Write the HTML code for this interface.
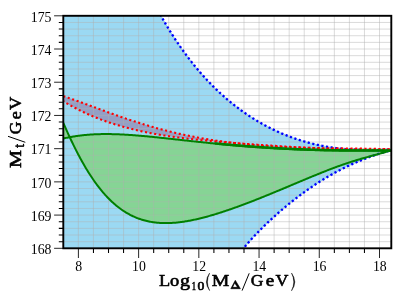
<!DOCTYPE html>
<html><head><meta charset="utf-8"><title>plot</title>
<style>
html,body{margin:0;padding:0;background:#fff;}
svg{display:block;will-change:transform;font-family:"Liberation Serif",serif;}
</style></head><body>
<svg width="407" height="305" viewBox="0 0 407 305">
<rect width="407" height="305" fill="#fff"/>
<defs><clipPath id="g"><path d="M63.30 138.55 L64.30 138.32 L65.29 138.09 L66.29 137.88 L67.28 137.67 L68.28 137.46 L69.28 137.27 L70.27 137.08 L71.27 136.90 L72.26 136.72 L73.26 136.55 L74.26 136.39 L75.25 136.23 L76.25 136.08 L77.24 135.94 L78.24 135.80 L79.24 135.67 L80.23 135.54 L81.23 135.42 L82.22 135.31 L83.22 135.20 L84.22 135.09 L85.21 135.00 L86.21 134.90 L87.21 134.82 L88.20 134.74 L89.20 134.66 L90.19 134.59 L91.19 134.52 L92.19 134.46 L93.18 134.40 L94.18 134.35 L95.17 134.30 L96.17 134.26 L97.17 134.22 L98.16 134.19 L99.16 134.16 L100.15 134.13 L101.15 134.11 L102.15 134.10 L103.14 134.08 L104.14 134.07 L105.13 134.07 L106.13 134.07 L107.13 134.07 L108.12 134.07 L109.12 134.08 L110.11 134.10 L111.11 134.11 L112.11 134.13 L113.10 134.15 L114.10 134.18 L115.09 134.21 L116.09 134.24 L117.09 134.28 L118.08 134.31 L119.08 134.35 L120.07 134.40 L121.07 134.44 L122.07 134.49 L123.06 134.54 L124.06 134.60 L125.06 134.65 L126.05 134.71 L127.05 134.77 L128.04 134.83 L129.04 134.90 L130.04 134.97 L131.03 135.03 L132.03 135.11 L133.02 135.18 L134.02 135.25 L135.02 135.33 L136.01 135.41 L137.01 135.49 L138.00 135.57 L139.00 135.65 L140.00 135.74 L140.99 135.82 L141.99 135.91 L142.98 136.00 L143.98 136.09 L144.98 136.18 L145.97 136.27 L146.97 136.37 L147.96 136.46 L148.96 136.56 L149.96 136.66 L150.95 136.75 L151.95 136.85 L152.94 136.95 L153.94 137.05 L154.94 137.15 L155.93 137.26 L156.93 137.36 L157.92 137.46 L158.92 137.57 L159.92 137.67 L160.91 137.78 L161.91 137.88 L162.90 137.99 L163.90 138.10 L164.90 138.20 L165.89 138.31 L166.89 138.42 L167.89 138.53 L168.88 138.64 L169.88 138.75 L170.87 138.85 L171.87 138.96 L172.87 139.07 L173.86 139.18 L174.86 139.29 L175.85 139.40 L176.85 139.51 L177.85 139.62 L178.84 139.73 L179.84 139.84 L180.83 139.95 L181.83 140.06 L182.83 140.17 L183.82 140.28 L184.82 140.39 L185.81 140.50 L186.81 140.61 L187.81 140.72 L188.80 140.83 L189.80 140.94 L190.79 141.05 L191.79 141.15 L192.79 141.26 L193.78 141.37 L194.78 141.48 L195.77 141.58 L196.77 141.69 L197.77 141.79 L198.76 141.90 L199.76 142.01 L200.75 142.11 L201.75 142.22 L202.75 142.32 L203.74 142.42 L204.74 142.53 L205.73 142.63 L206.73 142.73 L207.73 142.83 L208.72 142.93 L209.72 143.03 L210.72 143.13 L211.71 143.23 L212.71 143.33 L213.70 143.43 L214.70 143.53 L215.70 143.63 L216.69 143.72 L217.69 143.82 L218.68 143.92 L219.68 144.01 L220.68 144.11 L221.67 144.20 L222.67 144.29 L223.66 144.39 L224.66 144.48 L225.66 144.57 L226.65 144.66 L227.65 144.75 L228.64 144.84 L229.64 144.93 L230.64 145.02 L231.63 145.10 L232.63 145.19 L233.62 145.28 L234.62 145.36 L235.62 145.45 L236.61 145.53 L237.61 145.62 L238.60 145.70 L239.60 145.78 L240.60 145.86 L241.59 145.94 L242.59 146.02 L243.58 146.10 L244.58 146.18 L245.58 146.26 L246.57 146.34 L247.57 146.42 L248.57 146.49 L249.56 146.57 L250.56 146.64 L251.55 146.72 L252.55 146.79 L253.55 146.86 L254.54 146.94 L255.54 147.01 L256.53 147.08 L257.53 147.15 L258.53 147.22 L259.52 147.29 L260.52 147.35 L261.51 147.42 L262.51 147.49 L263.51 147.55 L264.50 147.62 L265.50 147.68 L266.49 147.75 L267.49 147.81 L268.49 147.87 L269.48 147.93 L270.48 148.00 L271.47 148.06 L272.47 148.12 L273.47 148.17 L274.46 148.23 L275.46 148.29 L276.45 148.35 L277.45 148.40 L278.45 148.46 L279.44 148.51 L280.44 148.57 L281.43 148.62 L282.43 148.67 L283.43 148.72 L284.42 148.78 L285.42 148.83 L286.41 148.88 L287.41 148.92 L288.41 148.97 L289.40 149.02 L290.40 149.07 L291.40 149.11 L292.39 149.16 L293.39 149.20 L294.38 149.25 L295.38 149.29 L296.38 149.33 L297.37 149.38 L298.37 149.42 L299.36 149.46 L300.36 149.50 L301.36 149.54 L302.35 149.57 L303.35 149.61 L304.34 149.65 L305.34 149.68 L306.34 149.72 L307.33 149.75 L308.33 149.79 L309.32 149.82 L310.32 149.85 L311.32 149.88 L312.31 149.91 L313.31 149.95 L314.30 149.97 L315.30 150.00 L316.30 150.03 L317.29 150.06 L318.29 150.08 L319.28 150.11 L320.28 150.14 L321.28 150.16 L322.27 150.18 L323.27 150.21 L324.26 150.23 L325.26 150.25 L326.26 150.27 L327.25 150.29 L328.25 150.31 L329.24 150.33 L330.24 150.35 L331.24 150.36 L332.23 150.38 L333.23 150.40 L334.23 150.41 L335.22 150.43 L336.22 150.44 L337.21 150.45 L338.21 150.47 L339.21 150.48 L340.20 150.49 L341.20 150.50 L342.19 150.51 L343.19 150.52 L344.19 150.53 L345.18 150.54 L346.18 150.54 L347.17 150.55 L348.17 150.56 L349.17 150.56 L350.16 150.57 L351.16 150.57 L352.15 150.58 L353.15 150.58 L354.15 150.59 L355.14 150.59 L356.14 150.59 L357.13 150.60 L358.13 150.60 L359.13 150.60 L360.12 150.60 L361.12 150.60 L362.11 150.60 L363.11 150.60 L364.11 150.61 L365.10 150.61 L366.10 150.61 L367.09 150.61 L368.09 150.61 L369.09 150.61 L370.08 150.61 L371.08 150.61 L372.08 150.61 L373.07 150.61 L374.07 150.61 L375.06 150.61 L376.06 150.61 L377.06 150.61 L378.05 150.61 L379.05 150.62 L380.04 150.62 L381.04 150.62 L382.04 150.63 L383.03 150.63 L384.03 150.64 L385.02 150.64 L386.02 150.65 L387.02 150.66 L388.01 150.67 L389.01 150.68 L390.00 150.69 L391.00 150.70 L391.00 150.30 L390.00 150.63 L389.01 150.96 L388.01 151.27 L387.02 151.58 L386.02 151.88 L385.02 152.18 L384.03 152.47 L383.03 152.75 L382.04 153.04 L381.04 153.32 L380.04 153.59 L379.05 153.87 L378.05 154.14 L377.06 154.41 L376.06 154.68 L375.06 154.95 L374.07 155.22 L373.07 155.49 L372.08 155.76 L371.08 156.03 L370.08 156.30 L369.09 156.57 L368.09 156.85 L367.09 157.12 L366.10 157.40 L365.10 157.68 L364.11 157.96 L363.11 158.25 L362.11 158.53 L361.12 158.82 L360.12 159.11 L359.13 159.41 L358.13 159.71 L357.13 160.01 L356.14 160.31 L355.14 160.62 L354.15 160.93 L353.15 161.24 L352.15 161.56 L351.16 161.88 L350.16 162.20 L349.17 162.53 L348.17 162.85 L347.17 163.19 L346.18 163.52 L345.18 163.86 L344.19 164.20 L343.19 164.55 L342.19 164.89 L341.20 165.25 L340.20 165.60 L339.21 165.96 L338.21 166.31 L337.21 166.68 L336.22 167.04 L335.22 167.41 L334.23 167.78 L333.23 168.15 L332.23 168.53 L331.24 168.90 L330.24 169.28 L329.24 169.67 L328.25 170.05 L327.25 170.44 L326.26 170.83 L325.26 171.22 L324.26 171.61 L323.27 172.00 L322.27 172.40 L321.28 172.80 L320.28 173.20 L319.28 173.60 L318.29 174.00 L317.29 174.41 L316.30 174.81 L315.30 175.22 L314.30 175.63 L313.31 176.04 L312.31 176.45 L311.32 176.86 L310.32 177.27 L309.32 177.68 L308.33 178.10 L307.33 178.51 L306.34 178.93 L305.34 179.34 L304.34 179.76 L303.35 180.18 L302.35 180.59 L301.36 181.01 L300.36 181.43 L299.36 181.85 L298.37 182.27 L297.37 182.69 L296.38 183.10 L295.38 183.52 L294.38 183.94 L293.39 184.36 L292.39 184.78 L291.40 185.20 L290.40 185.62 L289.40 186.04 L288.41 186.46 L287.41 186.88 L286.41 187.29 L285.42 187.71 L284.42 188.13 L283.43 188.55 L282.43 188.96 L281.43 189.38 L280.44 189.80 L279.44 190.21 L278.45 190.62 L277.45 191.04 L276.45 191.45 L275.46 191.86 L274.46 192.28 L273.47 192.69 L272.47 193.10 L271.47 193.51 L270.48 193.91 L269.48 194.32 L268.49 194.73 L267.49 195.13 L266.49 195.54 L265.50 195.94 L264.50 196.35 L263.51 196.75 L262.51 197.15 L261.51 197.55 L260.52 197.95 L259.52 198.34 L258.53 198.74 L257.53 199.13 L256.53 199.53 L255.54 199.92 L254.54 200.31 L253.55 200.70 L252.55 201.09 L251.55 201.47 L250.56 201.86 L249.56 202.24 L248.57 202.62 L247.57 203.00 L246.57 203.38 L245.58 203.76 L244.58 204.13 L243.58 204.51 L242.59 204.88 L241.59 205.25 L240.60 205.62 L239.60 205.98 L238.60 206.35 L237.61 206.71 L236.61 207.07 L235.62 207.43 L234.62 207.79 L233.62 208.14 L232.63 208.49 L231.63 208.84 L230.64 209.19 L229.64 209.54 L228.64 209.88 L227.65 210.22 L226.65 210.56 L225.66 210.89 L224.66 211.23 L223.66 211.56 L222.67 211.88 L221.67 212.21 L220.68 212.53 L219.68 212.85 L218.68 213.16 L217.69 213.48 L216.69 213.79 L215.70 214.09 L214.70 214.40 L213.70 214.70 L212.71 214.99 L211.71 215.29 L210.72 215.57 L209.72 215.86 L208.72 216.14 L207.73 216.42 L206.73 216.69 L205.73 216.96 L204.74 217.23 L203.74 217.49 L202.75 217.75 L201.75 218.00 L200.75 218.25 L199.76 218.49 L198.76 218.73 L197.77 218.97 L196.77 219.20 L195.77 219.42 L194.78 219.64 L193.78 219.85 L192.79 220.06 L191.79 220.26 L190.79 220.46 L189.80 220.65 L188.80 220.84 L187.81 221.02 L186.81 221.19 L185.81 221.36 L184.82 221.52 L183.82 221.67 L182.83 221.82 L181.83 221.95 L180.83 222.09 L179.84 222.21 L178.84 222.33 L177.85 222.44 L176.85 222.54 L175.85 222.64 L174.86 222.72 L173.86 222.80 L172.87 222.87 L171.87 222.93 L170.87 222.99 L169.88 223.03 L168.88 223.06 L167.89 223.09 L166.89 223.10 L165.89 223.11 L164.90 223.10 L163.90 223.09 L162.90 223.06 L161.91 223.03 L160.91 222.98 L159.92 222.92 L158.92 222.85 L157.92 222.77 L156.93 222.68 L155.93 222.57 L154.94 222.46 L153.94 222.33 L152.94 222.18 L151.95 222.03 L150.95 221.86 L149.96 221.68 L148.96 221.48 L147.96 221.27 L146.97 221.05 L145.97 220.81 L144.98 220.55 L143.98 220.28 L142.98 220.00 L141.99 219.70 L140.99 219.38 L140.00 219.05 L139.00 218.70 L138.00 218.34 L137.01 217.96 L136.01 217.55 L135.02 217.14 L134.02 216.70 L133.02 216.25 L132.03 215.77 L131.03 215.28 L130.04 214.77 L129.04 214.24 L128.04 213.69 L127.05 213.12 L126.05 212.53 L125.06 211.92 L124.06 211.28 L123.06 210.63 L122.07 209.95 L121.07 209.25 L120.07 208.53 L119.08 207.79 L118.08 207.02 L117.09 206.23 L116.09 205.42 L115.09 204.58 L114.10 203.72 L113.10 202.83 L112.11 201.92 L111.11 200.98 L110.11 200.02 L109.12 199.04 L108.12 198.02 L107.13 196.98 L106.13 195.92 L105.13 194.82 L104.14 193.70 L103.14 192.56 L102.15 191.38 L101.15 190.18 L100.15 188.95 L99.16 187.69 L98.16 186.40 L97.17 185.08 L96.17 183.74 L95.17 182.36 L94.18 180.96 L93.18 179.53 L92.19 178.06 L91.19 176.57 L90.19 175.05 L89.20 173.50 L88.20 171.91 L87.21 170.30 L86.21 168.66 L85.21 166.99 L84.22 165.29 L83.22 163.55 L82.22 161.79 L81.23 160.00 L80.23 158.18 L79.24 156.33 L78.24 154.45 L77.24 152.54 L76.25 150.60 L75.25 148.63 L74.26 146.63 L73.26 144.60 L72.26 142.55 L71.27 140.47 L70.27 138.36 L69.28 136.22 L68.28 134.06 L67.28 131.87 L66.29 129.66 L65.29 127.42 L64.30 125.16 L63.30 122.87Z" clip-rule="nonzero"/></clipPath><clipPath id="c"><rect x="63.3" y="15.8" width="328.0" height="232.5"/></clipPath></defs>
<g clip-path="url(#c)">
<path d="M63.30 15.80 L64.30 15.80 L65.29 15.80 L66.29 15.80 L67.28 15.80 L68.28 15.80 L69.28 15.80 L70.27 15.80 L71.27 15.80 L72.26 15.80 L73.26 15.80 L74.26 15.80 L75.25 15.80 L76.25 15.80 L77.24 15.80 L78.24 15.80 L79.24 15.80 L80.23 15.80 L81.23 15.80 L82.22 15.80 L83.22 15.80 L84.22 15.80 L85.21 15.80 L86.21 15.80 L87.21 15.80 L88.20 15.80 L89.20 15.80 L90.19 15.80 L91.19 15.80 L92.19 15.80 L93.18 15.80 L94.18 15.80 L95.17 15.80 L96.17 15.80 L97.17 15.80 L98.16 15.80 L99.16 15.80 L100.15 15.80 L101.15 15.80 L102.15 15.80 L103.14 15.80 L104.14 15.80 L105.13 15.80 L106.13 15.80 L107.13 15.80 L108.12 15.80 L109.12 15.80 L110.11 15.80 L111.11 15.80 L112.11 15.80 L113.10 15.80 L114.10 15.80 L115.09 15.80 L116.09 15.80 L117.09 15.80 L118.08 15.80 L119.08 15.80 L120.07 15.80 L121.07 15.80 L122.07 15.80 L123.06 15.80 L124.06 15.80 L125.06 15.80 L126.05 15.80 L127.05 15.80 L128.04 15.80 L129.04 15.80 L130.04 15.80 L131.03 15.80 L132.03 15.80 L133.02 15.80 L134.02 15.80 L135.02 15.80 L136.01 15.80 L137.01 15.80 L138.00 15.80 L139.00 15.80 L140.00 15.80 L140.99 15.80 L141.99 15.80 L142.98 15.80 L143.98 15.80 L144.98 15.80 L145.97 15.80 L146.97 15.80 L147.96 15.80 L148.96 15.80 L149.96 15.80 L150.95 15.80 L151.95 15.80 L152.94 15.80 L153.94 15.80 L154.94 15.80 L155.93 15.80 L156.93 15.80 L157.92 15.80 L158.92 15.80 L159.92 15.80 L160.91 15.80 L161.91 17.46 L162.90 19.20 L163.90 20.93 L164.90 22.63 L165.89 24.32 L166.89 25.99 L167.89 27.64 L168.88 29.27 L169.88 30.88 L170.87 32.48 L171.87 34.06 L172.87 35.62 L173.86 37.16 L174.86 38.69 L175.85 40.20 L176.85 41.69 L177.85 43.17 L178.84 44.63 L179.84 46.08 L180.83 47.51 L181.83 48.93 L182.83 50.32 L183.82 51.71 L184.82 53.08 L185.81 54.43 L186.81 55.77 L187.81 57.10 L188.80 58.41 L189.80 59.70 L190.79 60.98 L191.79 62.25 L192.79 63.51 L193.78 64.75 L194.78 65.97 L195.77 67.19 L196.77 68.39 L197.77 69.57 L198.76 70.75 L199.76 71.91 L200.75 73.06 L201.75 74.19 L202.75 75.32 L203.74 76.43 L204.74 77.53 L205.73 78.61 L206.73 79.69 L207.73 80.75 L208.72 81.80 L209.72 82.84 L210.72 83.87 L211.71 84.89 L212.71 85.90 L213.70 86.89 L214.70 87.88 L215.70 88.85 L216.69 89.81 L217.69 90.76 L218.68 91.70 L219.68 92.64 L220.68 93.56 L221.67 94.47 L222.67 95.37 L223.66 96.26 L224.66 97.14 L225.66 98.01 L226.65 98.87 L227.65 99.72 L228.64 100.56 L229.64 101.39 L230.64 102.21 L231.63 103.02 L232.63 103.83 L233.62 104.62 L234.62 105.41 L235.62 106.18 L236.61 106.95 L237.61 107.71 L238.60 108.46 L239.60 109.20 L240.60 109.93 L241.59 110.65 L242.59 111.37 L243.58 112.08 L244.58 112.77 L245.58 113.47 L246.57 114.15 L247.57 114.82 L248.57 115.49 L249.56 116.14 L250.56 116.79 L251.55 117.44 L252.55 118.07 L253.55 118.70 L254.54 119.31 L255.54 119.93 L256.53 120.53 L257.53 121.12 L258.53 121.71 L259.52 122.29 L260.52 122.87 L261.51 123.43 L262.51 123.99 L263.51 124.54 L264.50 125.09 L265.50 125.63 L266.49 126.16 L267.49 126.68 L268.49 127.20 L269.48 127.71 L270.48 128.21 L271.47 128.70 L272.47 129.19 L273.47 129.68 L274.46 130.15 L275.46 130.62 L276.45 131.08 L277.45 131.54 L278.45 131.99 L279.44 132.43 L280.44 132.87 L281.43 133.30 L282.43 133.72 L283.43 134.14 L284.42 134.55 L285.42 134.95 L286.41 135.35 L287.41 135.74 L288.41 136.13 L289.40 136.51 L290.40 136.88 L291.40 137.25 L292.39 137.61 L293.39 137.97 L294.38 138.32 L295.38 138.66 L296.38 139.00 L297.37 139.33 L298.37 139.66 L299.36 139.98 L300.36 140.29 L301.36 140.60 L302.35 140.90 L303.35 141.20 L304.34 141.49 L305.34 141.78 L306.34 142.06 L307.33 142.34 L308.33 142.61 L309.32 142.87 L310.32 143.13 L311.32 143.39 L312.31 143.63 L313.31 143.88 L314.30 144.12 L315.30 144.35 L316.30 144.58 L317.29 144.80 L318.29 145.02 L319.28 145.23 L320.28 145.43 L321.28 145.64 L322.27 145.83 L323.27 146.02 L324.26 146.21 L325.26 146.39 L326.26 146.57 L327.25 146.74 L328.25 146.91 L329.24 147.07 L330.24 147.23 L331.24 147.38 L332.23 147.53 L333.23 147.68 L334.23 147.82 L335.22 147.95 L336.22 148.08 L337.21 148.21 L338.21 148.33 L339.21 148.44 L340.20 148.56 L341.20 148.66 L342.19 148.77 L343.19 148.87 L344.19 148.96 L345.18 149.05 L346.18 149.14 L347.17 149.22 L348.17 149.30 L349.17 149.38 L350.16 149.45 L351.16 149.51 L352.15 149.58 L353.15 149.64 L354.15 149.69 L355.14 149.74 L356.14 149.79 L357.13 149.84 L358.13 149.88 L359.13 149.91 L360.12 149.95 L361.12 149.98 L362.11 150.00 L363.11 150.03 L364.11 150.05 L365.10 150.07 L366.10 150.08 L367.09 150.09 L368.09 150.10 L369.09 150.10 L370.08 150.11 L371.08 150.11 L372.08 150.10 L373.07 150.10 L374.07 150.09 L375.06 150.08 L376.06 150.06 L377.06 150.05 L378.05 150.03 L379.05 150.01 L380.04 149.98 L381.04 149.96 L382.04 149.93 L383.03 149.90 L384.03 149.87 L385.02 149.83 L386.02 149.80 L387.02 149.76 L388.01 149.72 L389.01 149.68 L390.00 149.64 L391.00 149.60 L391.00 150.30 L390.00 150.56 L389.01 150.82 L388.01 151.09 L387.02 151.37 L386.02 151.65 L385.02 151.93 L384.03 152.23 L383.03 152.52 L382.04 152.82 L381.04 153.13 L380.04 153.44 L379.05 153.76 L378.05 154.08 L377.06 154.41 L376.06 154.74 L375.06 155.07 L374.07 155.41 L373.07 155.76 L372.08 156.11 L371.08 156.47 L370.08 156.83 L369.09 157.19 L368.09 157.56 L367.09 157.93 L366.10 158.31 L365.10 158.70 L364.11 159.08 L363.11 159.48 L362.11 159.87 L361.12 160.28 L360.12 160.68 L359.13 161.10 L358.13 161.51 L357.13 161.94 L356.14 162.36 L355.14 162.80 L354.15 163.23 L353.15 163.68 L352.15 164.12 L351.16 164.58 L350.16 165.04 L349.17 165.50 L348.17 165.97 L347.17 166.44 L346.18 166.92 L345.18 167.40 L344.19 167.89 L343.19 168.39 L342.19 168.89 L341.20 169.40 L340.20 169.91 L339.21 170.42 L338.21 170.95 L337.21 171.47 L336.22 172.01 L335.22 172.55 L334.23 173.09 L333.23 173.64 L332.23 174.20 L331.24 174.76 L330.24 175.33 L329.24 175.90 L328.25 176.48 L327.25 177.07 L326.26 177.66 L325.26 178.25 L324.26 178.86 L323.27 179.46 L322.27 180.08 L321.28 180.70 L320.28 181.32 L319.28 181.96 L318.29 182.59 L317.29 183.24 L316.30 183.88 L315.30 184.54 L314.30 185.20 L313.31 185.87 L312.31 186.54 L311.32 187.22 L310.32 187.90 L309.32 188.59 L308.33 189.28 L307.33 189.99 L306.34 190.69 L305.34 191.40 L304.34 192.12 L303.35 192.85 L302.35 193.58 L301.36 194.31 L300.36 195.05 L299.36 195.80 L298.37 196.55 L297.37 197.31 L296.38 198.08 L295.38 198.85 L294.38 199.62 L293.39 200.40 L292.39 201.19 L291.40 201.98 L290.40 202.78 L289.40 203.59 L288.41 204.40 L287.41 205.21 L286.41 206.03 L285.42 206.86 L284.42 207.69 L283.43 208.53 L282.43 209.38 L281.43 210.23 L280.44 211.09 L279.44 211.95 L278.45 212.82 L277.45 213.70 L276.45 214.58 L275.46 215.47 L274.46 216.36 L273.47 217.26 L272.47 218.17 L271.47 219.08 L270.48 220.01 L269.48 220.93 L268.49 221.87 L267.49 222.81 L266.49 223.76 L265.50 224.72 L264.50 225.69 L263.51 226.66 L262.51 227.64 L261.51 228.63 L260.52 229.63 L259.52 230.63 L258.53 231.65 L257.53 232.68 L256.53 233.71 L255.54 234.75 L254.54 235.81 L253.55 236.87 L252.55 237.95 L251.55 239.03 L250.56 240.13 L249.56 241.24 L248.57 242.36 L247.57 243.49 L246.57 244.64 L245.58 245.79 L244.58 246.97 L243.58 248.15 L242.59 248.30 L241.59 248.30 L240.60 248.30 L239.60 248.30 L238.60 248.30 L237.61 248.30 L236.61 248.30 L235.62 248.30 L234.62 248.30 L233.62 248.30 L232.63 248.30 L231.63 248.30 L230.64 248.30 L229.64 248.30 L228.64 248.30 L227.65 248.30 L226.65 248.30 L225.66 248.30 L224.66 248.30 L223.66 248.30 L222.67 248.30 L221.67 248.30 L220.68 248.30 L219.68 248.30 L218.68 248.30 L217.69 248.30 L216.69 248.30 L215.70 248.30 L214.70 248.30 L213.70 248.30 L212.71 248.30 L211.71 248.30 L210.72 248.30 L209.72 248.30 L208.72 248.30 L207.73 248.30 L206.73 248.30 L205.73 248.30 L204.74 248.30 L203.74 248.30 L202.75 248.30 L201.75 248.30 L200.75 248.30 L199.76 248.30 L198.76 248.30 L197.77 248.30 L196.77 248.30 L195.77 248.30 L194.78 248.30 L193.78 248.30 L192.79 248.30 L191.79 248.30 L190.79 248.30 L189.80 248.30 L188.80 248.30 L187.81 248.30 L186.81 248.30 L185.81 248.30 L184.82 248.30 L183.82 248.30 L182.83 248.30 L181.83 248.30 L180.83 248.30 L179.84 248.30 L178.84 248.30 L177.85 248.30 L176.85 248.30 L175.85 248.30 L174.86 248.30 L173.86 248.30 L172.87 248.30 L171.87 248.30 L170.87 248.30 L169.88 248.30 L168.88 248.30 L167.89 248.30 L166.89 248.30 L165.89 248.30 L164.90 248.30 L163.90 248.30 L162.90 248.30 L161.91 248.30 L160.91 248.30 L159.92 248.30 L158.92 248.30 L157.92 248.30 L156.93 248.30 L155.93 248.30 L154.94 248.30 L153.94 248.30 L152.94 248.30 L151.95 248.30 L150.95 248.30 L149.96 248.30 L148.96 248.30 L147.96 248.30 L146.97 248.30 L145.97 248.30 L144.98 248.30 L143.98 248.30 L142.98 248.30 L141.99 248.30 L140.99 248.30 L140.00 248.30 L139.00 248.30 L138.00 248.30 L137.01 248.30 L136.01 248.30 L135.02 248.30 L134.02 248.30 L133.02 248.30 L132.03 248.30 L131.03 248.30 L130.04 248.30 L129.04 248.30 L128.04 248.30 L127.05 248.30 L126.05 248.30 L125.06 248.30 L124.06 248.30 L123.06 248.30 L122.07 248.30 L121.07 248.30 L120.07 248.30 L119.08 248.30 L118.08 248.30 L117.09 248.30 L116.09 248.30 L115.09 248.30 L114.10 248.30 L113.10 248.30 L112.11 248.30 L111.11 248.30 L110.11 248.30 L109.12 248.30 L108.12 248.30 L107.13 248.30 L106.13 248.30 L105.13 248.30 L104.14 248.30 L103.14 248.30 L102.15 248.30 L101.15 248.30 L100.15 248.30 L99.16 248.30 L98.16 248.30 L97.17 248.30 L96.17 248.30 L95.17 248.30 L94.18 248.30 L93.18 248.30 L92.19 248.30 L91.19 248.30 L90.19 248.30 L89.20 248.30 L88.20 248.30 L87.21 248.30 L86.21 248.30 L85.21 248.30 L84.22 248.30 L83.22 248.30 L82.22 248.30 L81.23 248.30 L80.23 248.30 L79.24 248.30 L78.24 248.30 L77.24 248.30 L76.25 248.30 L75.25 248.30 L74.26 248.30 L73.26 248.30 L72.26 248.30 L71.27 248.30 L70.27 248.30 L69.28 248.30 L68.28 248.30 L67.28 248.30 L66.29 248.30 L65.29 248.30 L64.30 248.30 L63.30 248.30Z" fill="#9bd9f3" stroke="#86cdec" stroke-width="0.8"/>
<path d="M63.30 96.15 L64.30 96.47 L65.29 96.80 L66.29 97.14 L67.28 97.47 L68.28 97.81 L69.28 98.15 L70.27 98.49 L71.27 98.84 L72.26 99.19 L73.26 99.53 L74.26 99.89 L75.25 100.24 L76.25 100.59 L77.24 100.95 L78.24 101.31 L79.24 101.67 L80.23 102.03 L81.23 102.39 L82.22 102.76 L83.22 103.12 L84.22 103.48 L85.21 103.85 L86.21 104.22 L87.21 104.58 L88.20 104.95 L89.20 105.32 L90.19 105.69 L91.19 106.06 L92.19 106.43 L93.18 106.80 L94.18 107.17 L95.17 107.54 L96.17 107.90 L97.17 108.27 L98.16 108.64 L99.16 109.01 L100.15 109.38 L101.15 109.75 L102.15 110.11 L103.14 110.48 L104.14 110.85 L105.13 111.21 L106.13 111.57 L107.13 111.94 L108.12 112.30 L109.12 112.66 L110.11 113.02 L111.11 113.38 L112.11 113.74 L113.10 114.10 L114.10 114.45 L115.09 114.81 L116.09 115.16 L117.09 115.52 L118.08 115.87 L119.08 116.22 L120.07 116.56 L121.07 116.91 L122.07 117.26 L123.06 117.60 L124.06 117.94 L125.06 118.28 L126.05 118.62 L127.05 118.96 L128.04 119.29 L129.04 119.62 L130.04 119.96 L131.03 120.29 L132.03 120.61 L133.02 120.94 L134.02 121.26 L135.02 121.59 L136.01 121.91 L137.01 122.22 L138.00 122.54 L139.00 122.86 L140.00 123.17 L140.99 123.48 L141.99 123.79 L142.98 124.09 L143.98 124.40 L144.98 124.70 L145.97 125.00 L146.97 125.30 L147.96 125.59 L148.96 125.89 L149.96 126.18 L150.95 126.47 L151.95 126.75 L152.94 127.04 L153.94 127.32 L154.94 127.60 L155.93 127.88 L156.93 128.15 L157.92 128.43 L158.92 128.70 L159.92 128.97 L160.91 129.23 L161.91 129.50 L162.90 129.76 L163.90 130.02 L164.90 130.28 L165.89 130.53 L166.89 130.79 L167.89 131.04 L168.88 131.29 L169.88 131.53 L170.87 131.78 L171.87 132.02 L172.87 132.26 L173.86 132.50 L174.86 132.73 L175.85 132.97 L176.85 133.20 L177.85 133.43 L178.84 133.65 L179.84 133.88 L180.83 134.10 L181.83 134.32 L182.83 134.53 L183.82 134.75 L184.82 134.96 L185.81 135.17 L186.81 135.38 L187.81 135.59 L188.80 135.79 L189.80 136.00 L190.79 136.20 L191.79 136.39 L192.79 136.59 L193.78 136.78 L194.78 136.97 L195.77 137.16 L196.77 137.35 L197.77 137.54 L198.76 137.72 L199.76 137.90 L200.75 138.08 L201.75 138.26 L202.75 138.43 L203.74 138.60 L204.74 138.77 L205.73 138.94 L206.73 139.11 L207.73 139.28 L208.72 139.44 L209.72 139.60 L210.72 139.76 L211.71 139.92 L212.71 140.07 L213.70 140.22 L214.70 140.38 L215.70 140.52 L216.69 140.67 L217.69 140.82 L218.68 140.96 L219.68 141.10 L220.68 141.24 L221.67 141.38 L222.67 141.52 L223.66 141.65 L224.66 141.79 L225.66 141.92 L226.65 142.05 L227.65 142.17 L228.64 142.30 L229.64 142.42 L230.64 142.55 L231.63 142.67 L232.63 142.79 L233.62 142.91 L234.62 143.02 L235.62 143.14 L236.61 143.25 L237.61 143.36 L238.60 143.47 L239.60 143.58 L240.60 143.68 L241.59 143.79 L242.59 143.89 L243.58 143.99 L244.58 144.09 L245.58 144.19 L246.57 144.29 L247.57 144.38 L248.57 144.48 L249.56 144.57 L250.56 144.66 L251.55 144.75 L252.55 144.84 L253.55 144.92 L254.54 145.01 L255.54 145.09 L256.53 145.18 L257.53 145.26 L258.53 145.34 L259.52 145.42 L260.52 145.49 L261.51 145.57 L262.51 145.64 L263.51 145.72 L264.50 145.79 L265.50 145.86 L266.49 145.93 L267.49 146.00 L268.49 146.06 L269.48 146.13 L270.48 146.20 L271.47 146.26 L272.47 146.32 L273.47 146.38 L274.46 146.44 L275.46 146.50 L276.45 146.56 L277.45 146.61 L278.45 146.67 L279.44 146.72 L280.44 146.78 L281.43 146.83 L282.43 146.88 L283.43 146.93 L284.42 146.98 L285.42 147.02 L286.41 147.07 L287.41 147.12 L288.41 147.16 L289.40 147.20 L290.40 147.25 L291.40 147.29 L292.39 147.33 L293.39 147.37 L294.38 147.41 L295.38 147.45 L296.38 147.48 L297.37 147.52 L298.37 147.55 L299.36 147.59 L300.36 147.62 L301.36 147.65 L302.35 147.68 L303.35 147.72 L304.34 147.74 L305.34 147.77 L306.34 147.80 L307.33 147.83 L308.33 147.86 L309.32 147.88 L310.32 147.91 L311.32 147.93 L312.31 147.96 L313.31 147.98 L314.30 148.00 L315.30 148.02 L316.30 148.05 L317.29 148.07 L318.29 148.09 L319.28 148.11 L320.28 148.12 L321.28 148.14 L322.27 148.16 L323.27 148.18 L324.26 148.19 L325.26 148.21 L326.26 148.22 L327.25 148.24 L328.25 148.25 L329.24 148.27 L330.24 148.28 L331.24 148.30 L332.23 148.31 L333.23 148.32 L334.23 148.33 L335.22 148.35 L336.22 148.36 L337.21 148.37 L338.21 148.38 L339.21 148.39 L340.20 148.40 L341.20 148.41 L342.19 148.42 L343.19 148.43 L344.19 148.44 L345.18 148.45 L346.18 148.46 L347.17 148.47 L348.17 148.48 L349.17 148.49 L350.16 148.50 L351.16 148.51 L352.15 148.52 L353.15 148.53 L354.15 148.54 L355.14 148.56 L356.14 148.57 L357.13 148.58 L358.13 148.59 L359.13 148.60 L360.12 148.61 L361.12 148.63 L362.11 148.64 L363.11 148.65 L364.11 148.67 L365.10 148.68 L366.10 148.70 L367.09 148.71 L368.09 148.73 L369.09 148.75 L370.08 148.76 L371.08 148.78 L372.08 148.80 L373.07 148.82 L374.07 148.84 L375.06 148.87 L376.06 148.89 L377.06 148.91 L378.05 148.94 L379.05 148.97 L380.04 148.99 L381.04 149.02 L382.04 149.05 L383.03 149.09 L384.03 149.12 L385.02 149.16 L386.02 149.19 L387.02 149.23 L388.01 149.27 L389.01 149.31 L390.00 149.35 L391.00 149.40 L391.00 149.40 L390.00 149.43 L389.01 149.46 L388.01 149.49 L387.02 149.52 L386.02 149.54 L385.02 149.57 L384.03 149.59 L383.03 149.61 L382.04 149.63 L381.04 149.64 L380.04 149.66 L379.05 149.67 L378.05 149.69 L377.06 149.70 L376.06 149.71 L375.06 149.71 L374.07 149.72 L373.07 149.73 L372.08 149.73 L371.08 149.73 L370.08 149.73 L369.09 149.73 L368.09 149.73 L367.09 149.73 L366.10 149.72 L365.10 149.72 L364.11 149.71 L363.11 149.70 L362.11 149.69 L361.12 149.68 L360.12 149.67 L359.13 149.66 L358.13 149.64 L357.13 149.63 L356.14 149.61 L355.14 149.59 L354.15 149.58 L353.15 149.56 L352.15 149.54 L351.16 149.51 L350.16 149.49 L349.17 149.47 L348.17 149.44 L347.17 149.42 L346.18 149.39 L345.18 149.36 L344.19 149.33 L343.19 149.30 L342.19 149.27 L341.20 149.24 L340.20 149.21 L339.21 149.18 L338.21 149.14 L337.21 149.11 L336.22 149.07 L335.22 149.04 L334.23 149.00 L333.23 148.96 L332.23 148.93 L331.24 148.89 L330.24 148.85 L329.24 148.81 L328.25 148.76 L327.25 148.72 L326.26 148.68 L325.26 148.64 L324.26 148.59 L323.27 148.55 L322.27 148.50 L321.28 148.46 L320.28 148.41 L319.28 148.37 L318.29 148.32 L317.29 148.27 L316.30 148.22 L315.30 148.17 L314.30 148.12 L313.31 148.07 L312.31 148.02 L311.32 147.97 L310.32 147.92 L309.32 147.87 L308.33 147.82 L307.33 147.76 L306.34 147.71 L305.34 147.66 L304.34 147.60 L303.35 147.55 L302.35 147.49 L301.36 147.44 L300.36 147.38 L299.36 147.33 L298.37 147.27 L297.37 147.21 L296.38 147.16 L295.38 147.10 L294.38 147.04 L293.39 146.98 L292.39 146.93 L291.40 146.87 L290.40 146.81 L289.40 146.75 L288.41 146.69 L287.41 146.63 L286.41 146.57 L285.42 146.51 L284.42 146.45 L283.43 146.39 L282.43 146.33 L281.43 146.26 L280.44 146.20 L279.44 146.14 L278.45 146.08 L277.45 146.01 L276.45 145.95 L275.46 145.89 L274.46 145.82 L273.47 145.76 L272.47 145.70 L271.47 145.63 L270.48 145.57 L269.48 145.50 L268.49 145.44 L267.49 145.37 L266.49 145.31 L265.50 145.24 L264.50 145.18 L263.51 145.11 L262.51 145.04 L261.51 144.98 L260.52 144.91 L259.52 144.84 L258.53 144.77 L257.53 144.70 L256.53 144.64 L255.54 144.57 L254.54 144.50 L253.55 144.43 L252.55 144.36 L251.55 144.29 L250.56 144.22 L249.56 144.15 L248.57 144.08 L247.57 144.01 L246.57 143.94 L245.58 143.86 L244.58 143.79 L243.58 143.72 L242.59 143.65 L241.59 143.57 L240.60 143.50 L239.60 143.43 L238.60 143.35 L237.61 143.28 L236.61 143.20 L235.62 143.12 L234.62 143.05 L233.62 142.97 L232.63 142.89 L231.63 142.82 L230.64 142.74 L229.64 142.66 L228.64 142.58 L227.65 142.50 L226.65 142.42 L225.66 142.34 L224.66 142.26 L223.66 142.18 L222.67 142.09 L221.67 142.01 L220.68 141.93 L219.68 141.84 L218.68 141.76 L217.69 141.67 L216.69 141.58 L215.70 141.50 L214.70 141.41 L213.70 141.32 L212.71 141.23 L211.71 141.14 L210.72 141.05 L209.72 140.95 L208.72 140.86 L207.73 140.77 L206.73 140.67 L205.73 140.58 L204.74 140.48 L203.74 140.38 L202.75 140.29 L201.75 140.19 L200.75 140.09 L199.76 139.98 L198.76 139.88 L197.77 139.78 L196.77 139.67 L195.77 139.57 L194.78 139.46 L193.78 139.35 L192.79 139.24 L191.79 139.13 L190.79 139.02 L189.80 138.91 L188.80 138.79 L187.81 138.68 L186.81 138.56 L185.81 138.44 L184.82 138.32 L183.82 138.20 L182.83 138.08 L181.83 137.95 L180.83 137.83 L179.84 137.70 L178.84 137.57 L177.85 137.44 L176.85 137.31 L175.85 137.17 L174.86 137.04 L173.86 136.90 L172.87 136.76 L171.87 136.62 L170.87 136.48 L169.88 136.33 L168.88 136.18 L167.89 136.04 L166.89 135.88 L165.89 135.73 L164.90 135.58 L163.90 135.42 L162.90 135.26 L161.91 135.10 L160.91 134.94 L159.92 134.77 L158.92 134.61 L157.92 134.44 L156.93 134.26 L155.93 134.09 L154.94 133.91 L153.94 133.73 L152.94 133.55 L151.95 133.37 L150.95 133.18 L149.96 132.99 L148.96 132.80 L147.96 132.60 L146.97 132.40 L145.97 132.20 L144.98 132.00 L143.98 131.80 L142.98 131.59 L141.99 131.37 L140.99 131.16 L140.00 130.94 L139.00 130.72 L138.00 130.50 L137.01 130.27 L136.01 130.04 L135.02 129.81 L134.02 129.57 L133.02 129.33 L132.03 129.09 L131.03 128.84 L130.04 128.59 L129.04 128.34 L128.04 128.08 L127.05 127.82 L126.05 127.55 L125.06 127.28 L124.06 127.01 L123.06 126.74 L122.07 126.46 L121.07 126.17 L120.07 125.89 L119.08 125.59 L118.08 125.30 L117.09 125.00 L116.09 124.70 L115.09 124.39 L114.10 124.08 L113.10 123.76 L112.11 123.44 L111.11 123.11 L110.11 122.78 L109.12 122.45 L108.12 122.11 L107.13 121.77 L106.13 121.42 L105.13 121.07 L104.14 120.71 L103.14 120.35 L102.15 119.98 L101.15 119.61 L100.15 119.23 L99.16 118.85 L98.16 118.47 L97.17 118.07 L96.17 117.68 L95.17 117.27 L94.18 116.87 L93.18 116.45 L92.19 116.03 L91.19 115.61 L90.19 115.18 L89.20 114.74 L88.20 114.30 L87.21 113.86 L86.21 113.40 L85.21 112.95 L84.22 112.48 L83.22 112.01 L82.22 111.54 L81.23 111.05 L80.23 110.56 L79.24 110.07 L78.24 109.57 L77.24 109.06 L76.25 108.55 L75.25 108.03 L74.26 107.50 L73.26 106.97 L72.26 106.43 L71.27 105.88 L70.27 105.33 L69.28 104.77 L68.28 104.20 L67.28 103.63 L66.29 103.05 L65.29 102.46 L64.30 101.86 L63.30 101.26Z" fill="#93a0c6"/>
<path d="M78.40 15.80 V248.30 M93.46 15.80 V248.30 M108.51 15.80 V248.30 M123.56 15.80 V248.30 M138.62 15.80 V248.30 M153.68 15.80 V248.30 M168.73 15.80 V248.30 M183.78 15.80 V248.30 M198.84 15.80 V248.30 M213.90 15.80 V248.30 M228.95 15.80 V248.30 M244.00 15.80 V248.30 M259.06 15.80 V248.30 M274.12 15.80 V248.30 M289.17 15.80 V248.30 M304.23 15.80 V248.30 M319.28 15.80 V248.30 M334.34 15.80 V248.30 M349.39 15.80 V248.30 M364.45 15.80 V248.30 M379.50 15.80 V248.30 M63.30 241.66 H391.30 M63.30 235.01 H391.30 M63.30 228.37 H391.30 M63.30 221.73 H391.30 M63.30 215.09 H391.30 M63.30 208.44 H391.30 M63.30 201.80 H391.30 M63.30 195.16 H391.30 M63.30 188.51 H391.30 M63.30 181.87 H391.30 M63.30 175.23 H391.30 M63.30 168.59 H391.30 M63.30 161.94 H391.30 M63.30 155.30 H391.30 M63.30 148.66 H391.30 M63.30 142.01 H391.30 M63.30 135.37 H391.30 M63.30 128.73 H391.30 M63.30 122.09 H391.30 M63.30 115.44 H391.30 M63.30 108.80 H391.30 M63.30 102.16 H391.30 M63.30 95.51 H391.30 M63.30 88.87 H391.30 M63.30 82.23 H391.30 M63.30 75.59 H391.30 M63.30 68.94 H391.30 M63.30 62.30 H391.30 M63.30 55.66 H391.30 M63.30 49.01 H391.30 M63.30 42.37 H391.30 M63.30 35.73 H391.30 M63.30 29.09 H391.30 M63.30 22.44 H391.30" stroke="#b0b0b0" stroke-opacity="0.52" stroke-width="0.9" fill="none"/>
<path d="M63.30 138.55 L64.30 138.32 L65.29 138.09 L66.29 137.88 L67.28 137.67 L68.28 137.46 L69.28 137.27 L70.27 137.08 L71.27 136.90 L72.26 136.72 L73.26 136.55 L74.26 136.39 L75.25 136.23 L76.25 136.08 L77.24 135.94 L78.24 135.80 L79.24 135.67 L80.23 135.54 L81.23 135.42 L82.22 135.31 L83.22 135.20 L84.22 135.09 L85.21 135.00 L86.21 134.90 L87.21 134.82 L88.20 134.74 L89.20 134.66 L90.19 134.59 L91.19 134.52 L92.19 134.46 L93.18 134.40 L94.18 134.35 L95.17 134.30 L96.17 134.26 L97.17 134.22 L98.16 134.19 L99.16 134.16 L100.15 134.13 L101.15 134.11 L102.15 134.10 L103.14 134.08 L104.14 134.07 L105.13 134.07 L106.13 134.07 L107.13 134.07 L108.12 134.07 L109.12 134.08 L110.11 134.10 L111.11 134.11 L112.11 134.13 L113.10 134.15 L114.10 134.18 L115.09 134.21 L116.09 134.24 L117.09 134.28 L118.08 134.31 L119.08 134.35 L120.07 134.40 L121.07 134.44 L122.07 134.49 L123.06 134.54 L124.06 134.60 L125.06 134.65 L126.05 134.71 L127.05 134.77 L128.04 134.83 L129.04 134.90 L130.04 134.97 L131.03 135.03 L132.03 135.11 L133.02 135.18 L134.02 135.25 L135.02 135.33 L136.01 135.41 L137.01 135.49 L138.00 135.57 L139.00 135.65 L140.00 135.74 L140.99 135.82 L141.99 135.91 L142.98 136.00 L143.98 136.09 L144.98 136.18 L145.97 136.27 L146.97 136.37 L147.96 136.46 L148.96 136.56 L149.96 136.66 L150.95 136.75 L151.95 136.85 L152.94 136.95 L153.94 137.05 L154.94 137.15 L155.93 137.26 L156.93 137.36 L157.92 137.46 L158.92 137.57 L159.92 137.67 L160.91 137.78 L161.91 137.88 L162.90 137.99 L163.90 138.10 L164.90 138.20 L165.89 138.31 L166.89 138.42 L167.89 138.53 L168.88 138.64 L169.88 138.75 L170.87 138.85 L171.87 138.96 L172.87 139.07 L173.86 139.18 L174.86 139.29 L175.85 139.40 L176.85 139.51 L177.85 139.62 L178.84 139.73 L179.84 139.84 L180.83 139.95 L181.83 140.06 L182.83 140.17 L183.82 140.28 L184.82 140.39 L185.81 140.50 L186.81 140.61 L187.81 140.72 L188.80 140.83 L189.80 140.94 L190.79 141.05 L191.79 141.15 L192.79 141.26 L193.78 141.37 L194.78 141.48 L195.77 141.58 L196.77 141.69 L197.77 141.79 L198.76 141.90 L199.76 142.01 L200.75 142.11 L201.75 142.22 L202.75 142.32 L203.74 142.42 L204.74 142.53 L205.73 142.63 L206.73 142.73 L207.73 142.83 L208.72 142.93 L209.72 143.03 L210.72 143.13 L211.71 143.23 L212.71 143.33 L213.70 143.43 L214.70 143.53 L215.70 143.63 L216.69 143.72 L217.69 143.82 L218.68 143.92 L219.68 144.01 L220.68 144.11 L221.67 144.20 L222.67 144.29 L223.66 144.39 L224.66 144.48 L225.66 144.57 L226.65 144.66 L227.65 144.75 L228.64 144.84 L229.64 144.93 L230.64 145.02 L231.63 145.10 L232.63 145.19 L233.62 145.28 L234.62 145.36 L235.62 145.45 L236.61 145.53 L237.61 145.62 L238.60 145.70 L239.60 145.78 L240.60 145.86 L241.59 145.94 L242.59 146.02 L243.58 146.10 L244.58 146.18 L245.58 146.26 L246.57 146.34 L247.57 146.42 L248.57 146.49 L249.56 146.57 L250.56 146.64 L251.55 146.72 L252.55 146.79 L253.55 146.86 L254.54 146.94 L255.54 147.01 L256.53 147.08 L257.53 147.15 L258.53 147.22 L259.52 147.29 L260.52 147.35 L261.51 147.42 L262.51 147.49 L263.51 147.55 L264.50 147.62 L265.50 147.68 L266.49 147.75 L267.49 147.81 L268.49 147.87 L269.48 147.93 L270.48 148.00 L271.47 148.06 L272.47 148.12 L273.47 148.17 L274.46 148.23 L275.46 148.29 L276.45 148.35 L277.45 148.40 L278.45 148.46 L279.44 148.51 L280.44 148.57 L281.43 148.62 L282.43 148.67 L283.43 148.72 L284.42 148.78 L285.42 148.83 L286.41 148.88 L287.41 148.92 L288.41 148.97 L289.40 149.02 L290.40 149.07 L291.40 149.11 L292.39 149.16 L293.39 149.20 L294.38 149.25 L295.38 149.29 L296.38 149.33 L297.37 149.38 L298.37 149.42 L299.36 149.46 L300.36 149.50 L301.36 149.54 L302.35 149.57 L303.35 149.61 L304.34 149.65 L305.34 149.68 L306.34 149.72 L307.33 149.75 L308.33 149.79 L309.32 149.82 L310.32 149.85 L311.32 149.88 L312.31 149.91 L313.31 149.95 L314.30 149.97 L315.30 150.00 L316.30 150.03 L317.29 150.06 L318.29 150.08 L319.28 150.11 L320.28 150.14 L321.28 150.16 L322.27 150.18 L323.27 150.21 L324.26 150.23 L325.26 150.25 L326.26 150.27 L327.25 150.29 L328.25 150.31 L329.24 150.33 L330.24 150.35 L331.24 150.36 L332.23 150.38 L333.23 150.40 L334.23 150.41 L335.22 150.43 L336.22 150.44 L337.21 150.45 L338.21 150.47 L339.21 150.48 L340.20 150.49 L341.20 150.50 L342.19 150.51 L343.19 150.52 L344.19 150.53 L345.18 150.54 L346.18 150.54 L347.17 150.55 L348.17 150.56 L349.17 150.56 L350.16 150.57 L351.16 150.57 L352.15 150.58 L353.15 150.58 L354.15 150.59 L355.14 150.59 L356.14 150.59 L357.13 150.60 L358.13 150.60 L359.13 150.60 L360.12 150.60 L361.12 150.60 L362.11 150.60 L363.11 150.60 L364.11 150.61 L365.10 150.61 L366.10 150.61 L367.09 150.61 L368.09 150.61 L369.09 150.61 L370.08 150.61 L371.08 150.61 L372.08 150.61 L373.07 150.61 L374.07 150.61 L375.06 150.61 L376.06 150.61 L377.06 150.61 L378.05 150.61 L379.05 150.62 L380.04 150.62 L381.04 150.62 L382.04 150.63 L383.03 150.63 L384.03 150.64 L385.02 150.64 L386.02 150.65 L387.02 150.66 L388.01 150.67 L389.01 150.68 L390.00 150.69 L391.00 150.70 L391.00 150.30 L390.00 150.63 L389.01 150.96 L388.01 151.27 L387.02 151.58 L386.02 151.88 L385.02 152.18 L384.03 152.47 L383.03 152.75 L382.04 153.04 L381.04 153.32 L380.04 153.59 L379.05 153.87 L378.05 154.14 L377.06 154.41 L376.06 154.68 L375.06 154.95 L374.07 155.22 L373.07 155.49 L372.08 155.76 L371.08 156.03 L370.08 156.30 L369.09 156.57 L368.09 156.85 L367.09 157.12 L366.10 157.40 L365.10 157.68 L364.11 157.96 L363.11 158.25 L362.11 158.53 L361.12 158.82 L360.12 159.11 L359.13 159.41 L358.13 159.71 L357.13 160.01 L356.14 160.31 L355.14 160.62 L354.15 160.93 L353.15 161.24 L352.15 161.56 L351.16 161.88 L350.16 162.20 L349.17 162.53 L348.17 162.85 L347.17 163.19 L346.18 163.52 L345.18 163.86 L344.19 164.20 L343.19 164.55 L342.19 164.89 L341.20 165.25 L340.20 165.60 L339.21 165.96 L338.21 166.31 L337.21 166.68 L336.22 167.04 L335.22 167.41 L334.23 167.78 L333.23 168.15 L332.23 168.53 L331.24 168.90 L330.24 169.28 L329.24 169.67 L328.25 170.05 L327.25 170.44 L326.26 170.83 L325.26 171.22 L324.26 171.61 L323.27 172.00 L322.27 172.40 L321.28 172.80 L320.28 173.20 L319.28 173.60 L318.29 174.00 L317.29 174.41 L316.30 174.81 L315.30 175.22 L314.30 175.63 L313.31 176.04 L312.31 176.45 L311.32 176.86 L310.32 177.27 L309.32 177.68 L308.33 178.10 L307.33 178.51 L306.34 178.93 L305.34 179.34 L304.34 179.76 L303.35 180.18 L302.35 180.59 L301.36 181.01 L300.36 181.43 L299.36 181.85 L298.37 182.27 L297.37 182.69 L296.38 183.10 L295.38 183.52 L294.38 183.94 L293.39 184.36 L292.39 184.78 L291.40 185.20 L290.40 185.62 L289.40 186.04 L288.41 186.46 L287.41 186.88 L286.41 187.29 L285.42 187.71 L284.42 188.13 L283.43 188.55 L282.43 188.96 L281.43 189.38 L280.44 189.80 L279.44 190.21 L278.45 190.62 L277.45 191.04 L276.45 191.45 L275.46 191.86 L274.46 192.28 L273.47 192.69 L272.47 193.10 L271.47 193.51 L270.48 193.91 L269.48 194.32 L268.49 194.73 L267.49 195.13 L266.49 195.54 L265.50 195.94 L264.50 196.35 L263.51 196.75 L262.51 197.15 L261.51 197.55 L260.52 197.95 L259.52 198.34 L258.53 198.74 L257.53 199.13 L256.53 199.53 L255.54 199.92 L254.54 200.31 L253.55 200.70 L252.55 201.09 L251.55 201.47 L250.56 201.86 L249.56 202.24 L248.57 202.62 L247.57 203.00 L246.57 203.38 L245.58 203.76 L244.58 204.13 L243.58 204.51 L242.59 204.88 L241.59 205.25 L240.60 205.62 L239.60 205.98 L238.60 206.35 L237.61 206.71 L236.61 207.07 L235.62 207.43 L234.62 207.79 L233.62 208.14 L232.63 208.49 L231.63 208.84 L230.64 209.19 L229.64 209.54 L228.64 209.88 L227.65 210.22 L226.65 210.56 L225.66 210.89 L224.66 211.23 L223.66 211.56 L222.67 211.88 L221.67 212.21 L220.68 212.53 L219.68 212.85 L218.68 213.16 L217.69 213.48 L216.69 213.79 L215.70 214.09 L214.70 214.40 L213.70 214.70 L212.71 214.99 L211.71 215.29 L210.72 215.57 L209.72 215.86 L208.72 216.14 L207.73 216.42 L206.73 216.69 L205.73 216.96 L204.74 217.23 L203.74 217.49 L202.75 217.75 L201.75 218.00 L200.75 218.25 L199.76 218.49 L198.76 218.73 L197.77 218.97 L196.77 219.20 L195.77 219.42 L194.78 219.64 L193.78 219.85 L192.79 220.06 L191.79 220.26 L190.79 220.46 L189.80 220.65 L188.80 220.84 L187.81 221.02 L186.81 221.19 L185.81 221.36 L184.82 221.52 L183.82 221.67 L182.83 221.82 L181.83 221.95 L180.83 222.09 L179.84 222.21 L178.84 222.33 L177.85 222.44 L176.85 222.54 L175.85 222.64 L174.86 222.72 L173.86 222.80 L172.87 222.87 L171.87 222.93 L170.87 222.99 L169.88 223.03 L168.88 223.06 L167.89 223.09 L166.89 223.10 L165.89 223.11 L164.90 223.10 L163.90 223.09 L162.90 223.06 L161.91 223.03 L160.91 222.98 L159.92 222.92 L158.92 222.85 L157.92 222.77 L156.93 222.68 L155.93 222.57 L154.94 222.46 L153.94 222.33 L152.94 222.18 L151.95 222.03 L150.95 221.86 L149.96 221.68 L148.96 221.48 L147.96 221.27 L146.97 221.05 L145.97 220.81 L144.98 220.55 L143.98 220.28 L142.98 220.00 L141.99 219.70 L140.99 219.38 L140.00 219.05 L139.00 218.70 L138.00 218.34 L137.01 217.96 L136.01 217.55 L135.02 217.14 L134.02 216.70 L133.02 216.25 L132.03 215.77 L131.03 215.28 L130.04 214.77 L129.04 214.24 L128.04 213.69 L127.05 213.12 L126.05 212.53 L125.06 211.92 L124.06 211.28 L123.06 210.63 L122.07 209.95 L121.07 209.25 L120.07 208.53 L119.08 207.79 L118.08 207.02 L117.09 206.23 L116.09 205.42 L115.09 204.58 L114.10 203.72 L113.10 202.83 L112.11 201.92 L111.11 200.98 L110.11 200.02 L109.12 199.04 L108.12 198.02 L107.13 196.98 L106.13 195.92 L105.13 194.82 L104.14 193.70 L103.14 192.56 L102.15 191.38 L101.15 190.18 L100.15 188.95 L99.16 187.69 L98.16 186.40 L97.17 185.08 L96.17 183.74 L95.17 182.36 L94.18 180.96 L93.18 179.53 L92.19 178.06 L91.19 176.57 L90.19 175.05 L89.20 173.50 L88.20 171.91 L87.21 170.30 L86.21 168.66 L85.21 166.99 L84.22 165.29 L83.22 163.55 L82.22 161.79 L81.23 160.00 L80.23 158.18 L79.24 156.33 L78.24 154.45 L77.24 152.54 L76.25 150.60 L75.25 148.63 L74.26 146.63 L73.26 144.60 L72.26 142.55 L71.27 140.47 L70.27 138.36 L69.28 136.22 L68.28 134.06 L67.28 131.87 L66.29 129.66 L65.29 127.42 L64.30 125.16 L63.30 122.87Z" fill="#86d495" fill-rule="nonzero"/>
<g clip-path="url(#g)"><path d="M78.40 15.80 V248.30 M93.46 15.80 V248.30 M108.51 15.80 V248.30 M123.56 15.80 V248.30 M138.62 15.80 V248.30 M153.68 15.80 V248.30 M168.73 15.80 V248.30 M183.78 15.80 V248.30 M198.84 15.80 V248.30 M213.90 15.80 V248.30 M228.95 15.80 V248.30 M244.00 15.80 V248.30 M259.06 15.80 V248.30 M274.12 15.80 V248.30 M289.17 15.80 V248.30 M304.23 15.80 V248.30 M319.28 15.80 V248.30 M334.34 15.80 V248.30 M349.39 15.80 V248.30 M364.45 15.80 V248.30 M379.50 15.80 V248.30 M63.30 241.66 H391.30 M63.30 235.01 H391.30 M63.30 228.37 H391.30 M63.30 221.73 H391.30 M63.30 215.09 H391.30 M63.30 208.44 H391.30 M63.30 201.80 H391.30 M63.30 195.16 H391.30 M63.30 188.51 H391.30 M63.30 181.87 H391.30 M63.30 175.23 H391.30 M63.30 168.59 H391.30 M63.30 161.94 H391.30 M63.30 155.30 H391.30 M63.30 148.66 H391.30 M63.30 142.01 H391.30 M63.30 135.37 H391.30 M63.30 128.73 H391.30 M63.30 122.09 H391.30 M63.30 115.44 H391.30 M63.30 108.80 H391.30 M63.30 102.16 H391.30 M63.30 95.51 H391.30 M63.30 88.87 H391.30 M63.30 82.23 H391.30 M63.30 75.59 H391.30 M63.30 68.94 H391.30 M63.30 62.30 H391.30 M63.30 55.66 H391.30 M63.30 49.01 H391.30 M63.30 42.37 H391.30 M63.30 35.73 H391.30 M63.30 29.09 H391.30 M63.30 22.44 H391.30" stroke="#b0b0b0" stroke-opacity="0.45" stroke-width="0.9" fill="none"/></g>
<path d="M157.94 10.33 L158.49 11.33 L159.04 12.33 L159.59 13.32 L160.13 14.30 L160.68 15.28 L161.23 16.26 L161.77 17.22 L162.32 18.18 L162.87 19.14 L163.42 20.09 L163.96 21.03 L164.51 21.97 L165.06 22.90 L165.60 23.83 L166.15 24.75 L166.70 25.67 L167.24 26.58 L167.79 27.48 L168.34 28.38 L168.89 29.27 L169.43 30.16 L169.98 31.05 L170.53 31.92 L171.07 32.80 L171.62 33.66 L172.17 34.53 L172.72 35.38 L173.26 36.24 L173.81 37.08 L174.36 37.92 L174.90 38.76 L175.45 39.59 L176.00 40.42 L176.55 41.24 L177.09 42.06 L177.64 42.87 L178.19 43.67 L178.73 44.48 L179.28 45.27 L179.83 46.07 L180.37 46.85 L180.92 47.64 L181.47 48.41 L182.02 49.19 L182.56 49.96 L183.11 50.72 L183.66 51.48 L184.20 52.24 L184.75 52.99 L185.30 53.73 L185.85 54.47 L186.39 55.21 L186.94 55.94 L187.49 56.67 L188.03 57.40 L188.58 58.12 L189.13 58.83 L189.68 59.54 L190.22 60.25 L190.77 60.95 L191.32 61.65 L191.86 62.34 L192.41 63.03 L192.96 63.72 L193.50 64.40 L194.05 65.08 L194.60 65.75 L195.15 66.42 L195.69 67.09 L196.24 67.75 L196.79 68.41 L197.33 69.06 L197.88 69.71 L198.43 70.36 L198.98 71.00 L199.52 71.63 L200.07 72.27 L200.62 72.90 L201.16 73.53 L201.71 74.15 L202.26 74.77 L202.81 75.38 L203.35 75.99 L203.90 76.60 L204.45 77.21 L204.99 77.81 L205.54 78.40 L206.09 79.00 L206.63 79.59 L207.18 80.17 L207.73 80.75 L208.28 81.33 L208.82 81.91 L209.37 82.48 L209.92 83.05 L210.46 83.62 L211.01 84.18 L211.56 84.74 L212.11 85.29 L212.65 85.84 L213.20 86.39 L213.75 86.94 L214.29 87.48 L214.84 88.02 L215.39 88.55 L215.93 89.08 L216.48 89.61 L217.03 90.14 L217.58 90.66 L218.12 91.18 L218.67 91.69 L219.22 92.20 L219.76 92.71 L220.31 93.22 L220.86 93.72 L221.41 94.22 L221.95 94.72 L222.50 95.21 L223.05 95.71 L223.59 96.19 L224.14 96.68 L224.69 97.16 L225.24 97.64 L225.78 98.12 L226.33 98.59 L226.88 99.06 L227.42 99.53 L227.97 99.99 L228.52 100.45 L229.06 100.91 L229.61 101.37 L230.16 101.82 L230.71 102.27 L231.25 102.72 L231.80 103.16 L232.35 103.60 L232.89 104.04 L233.44 104.48 L233.99 104.91 L234.54 105.34 L235.08 105.77 L235.63 106.19 L236.18 106.62 L236.72 107.04 L237.27 107.45 L237.82 107.87 L238.37 108.28 L238.91 108.69 L239.46 109.09 L240.01 109.50 L240.55 109.90 L241.10 110.30 L241.65 110.69 L242.19 111.09 L242.74 111.48 L243.29 111.87 L243.84 112.25 L244.38 112.64 L244.93 113.02 L245.48 113.40 L246.02 113.77 L246.57 114.15 L247.12 114.52 L247.67 114.89 L248.21 115.25 L248.76 115.62 L249.31 115.98 L249.85 116.34 L250.40 116.69 L250.95 117.05 L251.49 117.40 L252.04 117.75 L252.59 118.10 L253.14 118.44 L253.68 118.78 L254.23 119.12 L254.78 119.46 L255.32 119.80 L255.87 120.13 L256.42 120.46 L256.97 120.79 L257.51 121.12 L258.06 121.44 L258.61 121.76 L259.15 122.08 L259.70 122.40 L260.25 122.71 L260.80 123.03 L261.34 123.34 L261.89 123.65 L262.44 123.95 L262.98 124.26 L263.53 124.56 L264.08 124.86 L264.62 125.16 L265.17 125.45 L265.72 125.74 L266.27 126.04 L266.81 126.33 L267.36 126.61 L267.91 126.90 L268.45 127.18 L269.00 127.46 L269.55 127.74 L270.10 128.02 L270.64 128.29 L271.19 128.56 L271.74 128.83 L272.28 129.10 L272.83 129.37 L273.38 129.63 L273.93 129.90 L274.47 130.16 L275.02 130.41 L275.57 130.67 L276.11 130.92 L276.66 131.18 L277.21 131.43 L277.75 131.68 L278.30 131.92 L278.85 132.17 L279.40 132.41 L279.94 132.65 L280.49 132.89 L281.04 133.12 L281.58 133.36 L282.13 133.59 L282.68 133.82 L283.23 134.05 L283.77 134.28 L284.32 134.50 L284.87 134.73 L285.41 134.95 L285.96 135.17 L286.51 135.39 L287.06 135.60 L287.60 135.82 L288.15 136.03 L288.70 136.24 L289.24 136.45 L289.79 136.65 L290.34 136.86 L290.88 137.06 L291.43 137.26 L291.98 137.46 L292.53 137.66 L293.07 137.85 L293.62 138.05 L294.17 138.24 L294.71 138.43 L295.26 138.62 L295.81 138.81 L296.36 138.99 L296.90 139.17 L297.45 139.36 L298.00 139.54 L298.54 139.71 L299.09 139.89 L299.64 140.06 L300.18 140.24 L300.73 140.41 L301.28 140.58 L301.83 140.75 L302.37 140.91 L302.92 141.08 L303.47 141.24 L304.01 141.40 L304.56 141.56 L305.11 141.72 L305.66 141.87 L306.20 142.03 L306.75 142.18 L307.30 142.33 L307.84 142.48 L308.39 142.63 L308.94 142.77 L309.49 142.92 L310.03 143.06 L310.58 143.20 L311.13 143.34 L311.67 143.48 L312.22 143.61 L312.77 143.75 L313.31 143.88 L313.86 144.01 L314.41 144.14 L314.96 144.27 L315.50 144.40 L316.05 144.52 L316.60 144.64 L317.14 144.77 L317.69 144.89 L318.24 145.00 L318.79 145.12 L319.33 145.24 L319.88 145.35 L320.43 145.46 L320.97 145.58 L321.52 145.68 L322.07 145.79 L322.62 145.90 L323.16 146.00 L323.71 146.11 L324.26 146.21 L324.80 146.31 L325.35 146.41 L325.90 146.51 L326.44 146.60 L326.99 146.70 L327.54 146.79 L328.09 146.88 L328.63 146.97 L329.18 147.06 L329.73 147.15 L330.27 147.24 L330.82 147.32 L331.37 147.40 L331.92 147.49 L332.46 147.57 L333.01 147.64 L333.56 147.72 L334.10 147.80 L334.65 147.87 L335.20 147.95 L335.75 148.02 L336.29 148.09 L336.84 148.16 L337.39 148.23 L337.93 148.29 L338.48 148.36 L339.03 148.42 L339.57 148.49 L340.12 148.55 L340.67 148.61 L341.22 148.67 L341.76 148.72 L342.31 148.78 L342.86 148.83 L343.40 148.89 L343.95 148.94 L344.50 148.99 L345.05 149.04 L345.59 149.09 L346.14 149.14 L346.69 149.18 L347.23 149.23 L347.78 149.27 L348.33 149.31 L348.87 149.35 L349.42 149.39 L349.97 149.43 L350.52 149.47 L351.06 149.51 L351.61 149.54 L352.16 149.58 L352.70 149.61 L353.25 149.64 L353.80 149.67 L354.35 149.70 L354.89 149.73 L355.44 149.76 L355.99 149.78 L356.53 149.81 L357.08 149.83 L357.63 149.86 L358.18 149.88 L358.72 149.90 L359.27 149.92 L359.82 149.94 L360.36 149.95 L360.91 149.97 L361.46 149.99 L362.00 150.00 L362.55 150.02 L363.10 150.03 L363.65 150.04 L364.19 150.05 L364.74 150.06 L365.29 150.07 L365.83 150.08 L366.38 150.08 L366.93 150.09 L367.48 150.09 L368.02 150.10 L368.57 150.10 L369.12 150.10 L369.66 150.11 L370.21 150.11 L370.76 150.11 L371.31 150.10 L371.85 150.10 L372.40 150.10 L372.95 150.10 L373.49 150.09 L374.04 150.09 L374.59 150.08 L375.13 150.07 L375.68 150.07 L376.23 150.06 L376.78 150.05 L377.32 150.04 L377.87 150.03 L378.42 150.02 L378.96 150.01 L379.51 149.99 L380.06 149.98 L380.61 149.97 L381.15 149.95 L381.70 149.94 L382.25 149.92 L382.79 149.91 L383.34 149.89 L383.89 149.87 L384.44 149.85 L384.98 149.84 L385.53 149.82 L386.08 149.80 L386.62 149.78 L387.17 149.76 L387.72 149.74 L388.26 149.71 L388.81 149.69 L389.36 149.67 L389.91 149.65 L390.45 149.62 L391.00 149.60" stroke="#0000ff" stroke-width="2.3" stroke-dasharray="2.2 2.47" fill="none"/>
<path d="M238.91 253.92 L239.46 253.23 L240.01 252.54 L240.55 251.86 L241.10 251.18 L241.65 250.50 L242.19 249.83 L242.74 249.17 L243.29 248.51 L243.84 247.85 L244.38 247.20 L244.93 246.55 L245.48 245.91 L246.02 245.27 L246.57 244.64 L247.12 244.01 L247.67 243.38 L248.21 242.76 L248.76 242.14 L249.31 241.52 L249.85 240.91 L250.40 240.30 L250.95 239.70 L251.49 239.10 L252.04 238.50 L252.59 237.90 L253.14 237.31 L253.68 236.72 L254.23 236.14 L254.78 235.56 L255.32 234.98 L255.87 234.40 L256.42 233.83 L256.97 233.26 L257.51 232.69 L258.06 232.13 L258.61 231.57 L259.15 231.01 L259.70 230.45 L260.25 229.90 L260.80 229.35 L261.34 228.80 L261.89 228.26 L262.44 227.71 L262.98 227.17 L263.53 226.64 L264.08 226.10 L264.62 225.57 L265.17 225.04 L265.72 224.51 L266.27 223.98 L266.81 223.46 L267.36 222.94 L267.91 222.42 L268.45 221.90 L269.00 221.39 L269.55 220.87 L270.10 220.36 L270.64 219.85 L271.19 219.35 L271.74 218.84 L272.28 218.34 L272.83 217.84 L273.38 217.34 L273.93 216.85 L274.47 216.35 L275.02 215.86 L275.57 215.37 L276.11 214.88 L276.66 214.39 L277.21 213.91 L277.75 213.43 L278.30 212.95 L278.85 212.47 L279.40 211.99 L279.94 211.52 L280.49 211.04 L281.04 210.57 L281.58 210.10 L282.13 209.63 L282.68 209.17 L283.23 208.70 L283.77 208.24 L284.32 207.78 L284.87 207.32 L285.41 206.86 L285.96 206.41 L286.51 205.96 L287.06 205.50 L287.60 205.05 L288.15 204.61 L288.70 204.16 L289.24 203.71 L289.79 203.27 L290.34 202.83 L290.88 202.39 L291.43 201.95 L291.98 201.52 L292.53 201.08 L293.07 200.65 L293.62 200.22 L294.17 199.79 L294.71 199.36 L295.26 198.94 L295.81 198.51 L296.36 198.09 L296.90 197.67 L297.45 197.25 L298.00 196.83 L298.54 196.42 L299.09 196.01 L299.64 195.59 L300.18 195.18 L300.73 194.78 L301.28 194.37 L301.83 193.96 L302.37 193.56 L302.92 193.16 L303.47 192.76 L304.01 192.36 L304.56 191.97 L305.11 191.57 L305.66 191.18 L306.20 190.79 L306.75 190.40 L307.30 190.01 L307.84 189.62 L308.39 189.24 L308.94 188.86 L309.49 188.48 L310.03 188.10 L310.58 187.72 L311.13 187.35 L311.67 186.97 L312.22 186.60 L312.77 186.23 L313.31 185.86 L313.86 185.49 L314.41 185.13 L314.96 184.77 L315.50 184.41 L316.05 184.05 L316.60 183.69 L317.14 183.33 L317.69 182.98 L318.24 182.62 L318.79 182.27 L319.33 181.92 L319.88 181.58 L320.43 181.23 L320.97 180.89 L321.52 180.55 L322.07 180.21 L322.62 179.87 L323.16 179.53 L323.71 179.19 L324.26 178.86 L324.80 178.53 L325.35 178.20 L325.90 177.87 L326.44 177.55 L326.99 177.22 L327.54 176.90 L328.09 176.58 L328.63 176.26 L329.18 175.94 L329.73 175.62 L330.27 175.31 L330.82 175.00 L331.37 174.69 L331.92 174.38 L332.46 174.07 L333.01 173.77 L333.56 173.46 L334.10 173.16 L334.65 172.86 L335.20 172.56 L335.75 172.26 L336.29 171.97 L336.84 171.67 L337.39 171.38 L337.93 171.09 L338.48 170.80 L339.03 170.52 L339.57 170.23 L340.12 169.95 L340.67 169.67 L341.22 169.39 L341.76 169.11 L342.31 168.83 L342.86 168.56 L343.40 168.28 L343.95 168.01 L344.50 167.74 L345.05 167.47 L345.59 167.20 L346.14 166.94 L346.69 166.67 L347.23 166.41 L347.78 166.15 L348.33 165.89 L348.87 165.64 L349.42 165.38 L349.97 165.12 L350.52 164.87 L351.06 164.62 L351.61 164.37 L352.16 164.12 L352.70 163.88 L353.25 163.63 L353.80 163.39 L354.35 163.15 L354.89 162.91 L355.44 162.67 L355.99 162.43 L356.53 162.19 L357.08 161.96 L357.63 161.73 L358.18 161.50 L358.72 161.27 L359.27 161.04 L359.82 160.81 L360.36 160.59 L360.91 160.36 L361.46 160.14 L362.00 159.92 L362.55 159.70 L363.10 159.48 L363.65 159.26 L364.19 159.05 L364.74 158.84 L365.29 158.62 L365.83 158.41 L366.38 158.20 L366.93 158.00 L367.48 157.79 L368.02 157.58 L368.57 157.38 L369.12 157.18 L369.66 156.98 L370.21 156.78 L370.76 156.58 L371.31 156.38 L371.85 156.19 L372.40 156.00 L372.95 155.80 L373.49 155.61 L374.04 155.42 L374.59 155.24 L375.13 155.05 L375.68 154.86 L376.23 154.68 L376.78 154.50 L377.32 154.32 L377.87 154.14 L378.42 153.96 L378.96 153.79 L379.51 153.61 L380.06 153.44 L380.61 153.27 L381.15 153.10 L381.70 152.93 L382.25 152.76 L382.79 152.59 L383.34 152.43 L383.89 152.27 L384.44 152.11 L384.98 151.95 L385.53 151.79 L386.08 151.63 L386.62 151.48 L387.17 151.32 L387.72 151.17 L388.26 151.02 L388.81 150.88 L389.36 150.73 L389.91 150.58 L390.45 150.44 L391.00 150.30" stroke="#0000ff" stroke-width="2.3" stroke-dasharray="2.2 2.47" fill="none"/>
<path d="M63.30 96.15 L64.30 96.47 L65.29 96.80 L66.29 97.14 L67.28 97.47 L68.28 97.81 L69.28 98.15 L70.27 98.49 L71.27 98.84 L72.26 99.19 L73.26 99.53 L74.26 99.89 L75.25 100.24 L76.25 100.59 L77.24 100.95 L78.24 101.31 L79.24 101.67 L80.23 102.03 L81.23 102.39 L82.22 102.76 L83.22 103.12 L84.22 103.48 L85.21 103.85 L86.21 104.22 L87.21 104.58 L88.20 104.95 L89.20 105.32 L90.19 105.69 L91.19 106.06 L92.19 106.43 L93.18 106.80 L94.18 107.17 L95.17 107.54 L96.17 107.90 L97.17 108.27 L98.16 108.64 L99.16 109.01 L100.15 109.38 L101.15 109.75 L102.15 110.11 L103.14 110.48 L104.14 110.85 L105.13 111.21 L106.13 111.57 L107.13 111.94 L108.12 112.30 L109.12 112.66 L110.11 113.02 L111.11 113.38 L112.11 113.74 L113.10 114.10 L114.10 114.45 L115.09 114.81 L116.09 115.16 L117.09 115.52 L118.08 115.87 L119.08 116.22 L120.07 116.56 L121.07 116.91 L122.07 117.26 L123.06 117.60 L124.06 117.94 L125.06 118.28 L126.05 118.62 L127.05 118.96 L128.04 119.29 L129.04 119.62 L130.04 119.96 L131.03 120.29 L132.03 120.61 L133.02 120.94 L134.02 121.26 L135.02 121.59 L136.01 121.91 L137.01 122.22 L138.00 122.54 L139.00 122.86 L140.00 123.17 L140.99 123.48 L141.99 123.79 L142.98 124.09 L143.98 124.40 L144.98 124.70 L145.97 125.00 L146.97 125.30 L147.96 125.59 L148.96 125.89 L149.96 126.18 L150.95 126.47 L151.95 126.75 L152.94 127.04 L153.94 127.32 L154.94 127.60 L155.93 127.88 L156.93 128.15 L157.92 128.43 L158.92 128.70 L159.92 128.97 L160.91 129.23 L161.91 129.50 L162.90 129.76 L163.90 130.02 L164.90 130.28 L165.89 130.53 L166.89 130.79 L167.89 131.04 L168.88 131.29 L169.88 131.53 L170.87 131.78 L171.87 132.02 L172.87 132.26 L173.86 132.50 L174.86 132.73 L175.85 132.97 L176.85 133.20 L177.85 133.43 L178.84 133.65 L179.84 133.88 L180.83 134.10 L181.83 134.32 L182.83 134.53 L183.82 134.75 L184.82 134.96 L185.81 135.17 L186.81 135.38 L187.81 135.59 L188.80 135.79 L189.80 136.00 L190.79 136.20 L191.79 136.39 L192.79 136.59 L193.78 136.78 L194.78 136.97 L195.77 137.16 L196.77 137.35 L197.77 137.54 L198.76 137.72 L199.76 137.90 L200.75 138.08 L201.75 138.26 L202.75 138.43 L203.74 138.60 L204.74 138.77 L205.73 138.94 L206.73 139.11 L207.73 139.28 L208.72 139.44 L209.72 139.60 L210.72 139.76 L211.71 139.92 L212.71 140.07 L213.70 140.22 L214.70 140.38 L215.70 140.52 L216.69 140.67 L217.69 140.82 L218.68 140.96 L219.68 141.10 L220.68 141.24 L221.67 141.38 L222.67 141.52 L223.66 141.65 L224.66 141.79 L225.66 141.92 L226.65 142.05 L227.65 142.17 L228.64 142.30 L229.64 142.42 L230.64 142.55 L231.63 142.67 L232.63 142.79 L233.62 142.91 L234.62 143.02 L235.62 143.14 L236.61 143.25 L237.61 143.36 L238.60 143.47 L239.60 143.58 L240.60 143.68 L241.59 143.79 L242.59 143.89 L243.58 143.99 L244.58 144.09 L245.58 144.19 L246.57 144.29 L247.57 144.38 L248.57 144.48 L249.56 144.57 L250.56 144.66 L251.55 144.75 L252.55 144.84 L253.55 144.92 L254.54 145.01 L255.54 145.09 L256.53 145.18 L257.53 145.26 L258.53 145.34 L259.52 145.42 L260.52 145.49 L261.51 145.57 L262.51 145.64 L263.51 145.72 L264.50 145.79 L265.50 145.86 L266.49 145.93 L267.49 146.00 L268.49 146.06 L269.48 146.13 L270.48 146.20 L271.47 146.26 L272.47 146.32 L273.47 146.38 L274.46 146.44 L275.46 146.50 L276.45 146.56 L277.45 146.61 L278.45 146.67 L279.44 146.72 L280.44 146.78 L281.43 146.83 L282.43 146.88 L283.43 146.93 L284.42 146.98 L285.42 147.02 L286.41 147.07 L287.41 147.12 L288.41 147.16 L289.40 147.20 L290.40 147.25 L291.40 147.29 L292.39 147.33 L293.39 147.37 L294.38 147.41 L295.38 147.45 L296.38 147.48 L297.37 147.52 L298.37 147.55 L299.36 147.59 L300.36 147.62 L301.36 147.65 L302.35 147.68 L303.35 147.72 L304.34 147.74 L305.34 147.77 L306.34 147.80 L307.33 147.83 L308.33 147.86 L309.32 147.88 L310.32 147.91 L311.32 147.93 L312.31 147.96 L313.31 147.98 L314.30 148.00 L315.30 148.02 L316.30 148.05 L317.29 148.07 L318.29 148.09 L319.28 148.11 L320.28 148.12 L321.28 148.14 L322.27 148.16 L323.27 148.18 L324.26 148.19 L325.26 148.21 L326.26 148.22 L327.25 148.24 L328.25 148.25 L329.24 148.27 L330.24 148.28 L331.24 148.30 L332.23 148.31 L333.23 148.32 L334.23 148.33 L335.22 148.35 L336.22 148.36 L337.21 148.37 L338.21 148.38 L339.21 148.39 L340.20 148.40 L341.20 148.41 L342.19 148.42 L343.19 148.43 L344.19 148.44 L345.18 148.45 L346.18 148.46 L347.17 148.47 L348.17 148.48 L349.17 148.49 L350.16 148.50 L351.16 148.51 L352.15 148.52 L353.15 148.53 L354.15 148.54 L355.14 148.56 L356.14 148.57 L357.13 148.58 L358.13 148.59 L359.13 148.60 L360.12 148.61 L361.12 148.63 L362.11 148.64 L363.11 148.65 L364.11 148.67 L365.10 148.68 L366.10 148.70 L367.09 148.71 L368.09 148.73 L369.09 148.75 L370.08 148.76 L371.08 148.78 L372.08 148.80 L373.07 148.82 L374.07 148.84 L375.06 148.87 L376.06 148.89 L377.06 148.91 L378.05 148.94 L379.05 148.97 L380.04 148.99 L381.04 149.02 L382.04 149.05 L383.03 149.09 L384.03 149.12 L385.02 149.16 L386.02 149.19 L387.02 149.23 L388.01 149.27 L389.01 149.31 L390.00 149.35 L391.00 149.40" stroke="#ff0000" stroke-width="2.1" stroke-dasharray="2.1 2.57" fill="none"/>
<path d="M63.30 101.26 L64.30 101.86 L65.29 102.46 L66.29 103.05 L67.28 103.63 L68.28 104.20 L69.28 104.77 L70.27 105.33 L71.27 105.88 L72.26 106.43 L73.26 106.97 L74.26 107.50 L75.25 108.03 L76.25 108.55 L77.24 109.06 L78.24 109.57 L79.24 110.07 L80.23 110.56 L81.23 111.05 L82.22 111.54 L83.22 112.01 L84.22 112.48 L85.21 112.95 L86.21 113.40 L87.21 113.86 L88.20 114.30 L89.20 114.74 L90.19 115.18 L91.19 115.61 L92.19 116.03 L93.18 116.45 L94.18 116.87 L95.17 117.27 L96.17 117.68 L97.17 118.07 L98.16 118.47 L99.16 118.85 L100.15 119.23 L101.15 119.61 L102.15 119.98 L103.14 120.35 L104.14 120.71 L105.13 121.07 L106.13 121.42 L107.13 121.77 L108.12 122.11 L109.12 122.45 L110.11 122.78 L111.11 123.11 L112.11 123.44 L113.10 123.76 L114.10 124.08 L115.09 124.39 L116.09 124.70 L117.09 125.00 L118.08 125.30 L119.08 125.59 L120.07 125.89 L121.07 126.17 L122.07 126.46 L123.06 126.74 L124.06 127.01 L125.06 127.28 L126.05 127.55 L127.05 127.82 L128.04 128.08 L129.04 128.34 L130.04 128.59 L131.03 128.84 L132.03 129.09 L133.02 129.33 L134.02 129.57 L135.02 129.81 L136.01 130.04 L137.01 130.27 L138.00 130.50 L139.00 130.72 L140.00 130.94 L140.99 131.16 L141.99 131.37 L142.98 131.59 L143.98 131.80 L144.98 132.00 L145.97 132.20 L146.97 132.40 L147.96 132.60 L148.96 132.80 L149.96 132.99 L150.95 133.18 L151.95 133.37 L152.94 133.55 L153.94 133.73 L154.94 133.91 L155.93 134.09 L156.93 134.26 L157.92 134.44 L158.92 134.61 L159.92 134.77 L160.91 134.94 L161.91 135.10 L162.90 135.26 L163.90 135.42 L164.90 135.58 L165.89 135.73 L166.89 135.88 L167.89 136.04 L168.88 136.18 L169.88 136.33 L170.87 136.48 L171.87 136.62 L172.87 136.76 L173.86 136.90 L174.86 137.04 L175.85 137.17 L176.85 137.31 L177.85 137.44 L178.84 137.57 L179.84 137.70 L180.83 137.83 L181.83 137.95 L182.83 138.08 L183.82 138.20 L184.82 138.32 L185.81 138.44 L186.81 138.56 L187.81 138.68 L188.80 138.79 L189.80 138.91 L190.79 139.02 L191.79 139.13 L192.79 139.24 L193.78 139.35 L194.78 139.46 L195.77 139.57 L196.77 139.67 L197.77 139.78 L198.76 139.88 L199.76 139.98 L200.75 140.09 L201.75 140.19 L202.75 140.29 L203.74 140.38 L204.74 140.48 L205.73 140.58 L206.73 140.67 L207.73 140.77 L208.72 140.86 L209.72 140.95 L210.72 141.05 L211.71 141.14 L212.71 141.23 L213.70 141.32 L214.70 141.41 L215.70 141.50 L216.69 141.58 L217.69 141.67 L218.68 141.76 L219.68 141.84 L220.68 141.93 L221.67 142.01 L222.67 142.09 L223.66 142.18 L224.66 142.26 L225.66 142.34 L226.65 142.42 L227.65 142.50 L228.64 142.58 L229.64 142.66 L230.64 142.74 L231.63 142.82 L232.63 142.89 L233.62 142.97 L234.62 143.05 L235.62 143.12 L236.61 143.20 L237.61 143.28 L238.60 143.35 L239.60 143.43 L240.60 143.50 L241.59 143.57 L242.59 143.65 L243.58 143.72 L244.58 143.79 L245.58 143.86 L246.57 143.94 L247.57 144.01 L248.57 144.08 L249.56 144.15 L250.56 144.22 L251.55 144.29 L252.55 144.36 L253.55 144.43 L254.54 144.50 L255.54 144.57 L256.53 144.64 L257.53 144.70 L258.53 144.77 L259.52 144.84 L260.52 144.91 L261.51 144.98 L262.51 145.04 L263.51 145.11 L264.50 145.18 L265.50 145.24 L266.49 145.31 L267.49 145.37 L268.49 145.44 L269.48 145.50 L270.48 145.57 L271.47 145.63 L272.47 145.70 L273.47 145.76 L274.46 145.82 L275.46 145.89 L276.45 145.95 L277.45 146.01 L278.45 146.08 L279.44 146.14 L280.44 146.20 L281.43 146.26 L282.43 146.33 L283.43 146.39 L284.42 146.45 L285.42 146.51 L286.41 146.57 L287.41 146.63 L288.41 146.69 L289.40 146.75 L290.40 146.81 L291.40 146.87 L292.39 146.93 L293.39 146.98 L294.38 147.04 L295.38 147.10 L296.38 147.16 L297.37 147.21 L298.37 147.27 L299.36 147.33 L300.36 147.38 L301.36 147.44 L302.35 147.49 L303.35 147.55 L304.34 147.60 L305.34 147.66 L306.34 147.71 L307.33 147.76 L308.33 147.82 L309.32 147.87 L310.32 147.92 L311.32 147.97 L312.31 148.02 L313.31 148.07 L314.30 148.12 L315.30 148.17 L316.30 148.22 L317.29 148.27 L318.29 148.32 L319.28 148.37 L320.28 148.41 L321.28 148.46 L322.27 148.50 L323.27 148.55 L324.26 148.59 L325.26 148.64 L326.26 148.68 L327.25 148.72 L328.25 148.76 L329.24 148.81 L330.24 148.85 L331.24 148.89 L332.23 148.93 L333.23 148.96 L334.23 149.00 L335.22 149.04 L336.22 149.07 L337.21 149.11 L338.21 149.14 L339.21 149.18 L340.20 149.21 L341.20 149.24 L342.19 149.27 L343.19 149.30 L344.19 149.33 L345.18 149.36 L346.18 149.39 L347.17 149.42 L348.17 149.44 L349.17 149.47 L350.16 149.49 L351.16 149.51 L352.15 149.54 L353.15 149.56 L354.15 149.58 L355.14 149.59 L356.14 149.61 L357.13 149.63 L358.13 149.64 L359.13 149.66 L360.12 149.67 L361.12 149.68 L362.11 149.69 L363.11 149.70 L364.11 149.71 L365.10 149.72 L366.10 149.72 L367.09 149.73 L368.09 149.73 L369.09 149.73 L370.08 149.73 L371.08 149.73 L372.08 149.73 L373.07 149.73 L374.07 149.72 L375.06 149.71 L376.06 149.71 L377.06 149.70 L378.05 149.69 L379.05 149.67 L380.04 149.66 L381.04 149.64 L382.04 149.63 L383.03 149.61 L384.03 149.59 L385.02 149.57 L386.02 149.54 L387.02 149.52 L388.01 149.49 L389.01 149.46 L390.00 149.43 L391.00 149.40" stroke="#ff0000" stroke-width="2.1" stroke-dasharray="2.1 2.57" stroke-dashoffset="1.0" fill="none"/>
<path d="M63.30 122.87 L64.30 125.16 L65.29 127.42 L66.29 129.66 L67.28 131.87 L68.28 134.06 L69.28 136.22 L70.27 138.36 L71.27 140.47 L72.26 142.55 L73.26 144.60 L74.26 146.63 L75.25 148.63 L76.25 150.60 L77.24 152.54 L78.24 154.45 L79.24 156.33 L80.23 158.18 L81.23 160.00 L82.22 161.79 L83.22 163.55 L84.22 165.29 L85.21 166.99 L86.21 168.66 L87.21 170.30 L88.20 171.91 L89.20 173.50 L90.19 175.05 L91.19 176.57 L92.19 178.06 L93.18 179.53 L94.18 180.96 L95.17 182.36 L96.17 183.74 L97.17 185.08 L98.16 186.40 L99.16 187.69 L100.15 188.95 L101.15 190.18 L102.15 191.38 L103.14 192.56 L104.14 193.70 L105.13 194.82 L106.13 195.92 L107.13 196.98 L108.12 198.02 L109.12 199.04 L110.11 200.02 L111.11 200.98 L112.11 201.92 L113.10 202.83 L114.10 203.72 L115.09 204.58 L116.09 205.42 L117.09 206.23 L118.08 207.02 L119.08 207.79 L120.07 208.53 L121.07 209.25 L122.07 209.95 L123.06 210.63 L124.06 211.28 L125.06 211.92 L126.05 212.53 L127.05 213.12 L128.04 213.69 L129.04 214.24 L130.04 214.77 L131.03 215.28 L132.03 215.77 L133.02 216.25 L134.02 216.70 L135.02 217.14 L136.01 217.55 L137.01 217.96 L138.00 218.34 L139.00 218.70 L140.00 219.05 L140.99 219.38 L141.99 219.70 L142.98 220.00 L143.98 220.28 L144.98 220.55 L145.97 220.81 L146.97 221.05 L147.96 221.27 L148.96 221.48 L149.96 221.68 L150.95 221.86 L151.95 222.03 L152.94 222.18 L153.94 222.33 L154.94 222.46 L155.93 222.57 L156.93 222.68 L157.92 222.77 L158.92 222.85 L159.92 222.92 L160.91 222.98 L161.91 223.03 L162.90 223.06 L163.90 223.09 L164.90 223.10 L165.89 223.11 L166.89 223.10 L167.89 223.09 L168.88 223.06 L169.88 223.03 L170.87 222.99 L171.87 222.93 L172.87 222.87 L173.86 222.80 L174.86 222.72 L175.85 222.64 L176.85 222.54 L177.85 222.44 L178.84 222.33 L179.84 222.21 L180.83 222.09 L181.83 221.95 L182.83 221.82 L183.82 221.67 L184.82 221.52 L185.81 221.36 L186.81 221.19 L187.81 221.02 L188.80 220.84 L189.80 220.65 L190.79 220.46 L191.79 220.26 L192.79 220.06 L193.78 219.85 L194.78 219.64 L195.77 219.42 L196.77 219.20 L197.77 218.97 L198.76 218.73 L199.76 218.49 L200.75 218.25 L201.75 218.00 L202.75 217.75 L203.74 217.49 L204.74 217.23 L205.73 216.96 L206.73 216.69 L207.73 216.42 L208.72 216.14 L209.72 215.86 L210.72 215.57 L211.71 215.29 L212.71 214.99 L213.70 214.70 L214.70 214.40 L215.70 214.09 L216.69 213.79 L217.69 213.48 L218.68 213.16 L219.68 212.85 L220.68 212.53 L221.67 212.21 L222.67 211.88 L223.66 211.56 L224.66 211.23 L225.66 210.89 L226.65 210.56 L227.65 210.22 L228.64 209.88 L229.64 209.54 L230.64 209.19 L231.63 208.84 L232.63 208.49 L233.62 208.14 L234.62 207.79 L235.62 207.43 L236.61 207.07 L237.61 206.71 L238.60 206.35 L239.60 205.98 L240.60 205.62 L241.59 205.25 L242.59 204.88 L243.58 204.51 L244.58 204.13 L245.58 203.76 L246.57 203.38 L247.57 203.00 L248.57 202.62 L249.56 202.24 L250.56 201.86 L251.55 201.47 L252.55 201.09 L253.55 200.70 L254.54 200.31 L255.54 199.92 L256.53 199.53 L257.53 199.13 L258.53 198.74 L259.52 198.34 L260.52 197.95 L261.51 197.55 L262.51 197.15 L263.51 196.75 L264.50 196.35 L265.50 195.94 L266.49 195.54 L267.49 195.13 L268.49 194.73 L269.48 194.32 L270.48 193.91 L271.47 193.51 L272.47 193.10 L273.47 192.69 L274.46 192.28 L275.46 191.86 L276.45 191.45 L277.45 191.04 L278.45 190.62 L279.44 190.21 L280.44 189.80 L281.43 189.38 L282.43 188.96 L283.43 188.55 L284.42 188.13 L285.42 187.71 L286.41 187.29 L287.41 186.88 L288.41 186.46 L289.40 186.04 L290.40 185.62 L291.40 185.20 L292.39 184.78 L293.39 184.36 L294.38 183.94 L295.38 183.52 L296.38 183.10 L297.37 182.69 L298.37 182.27 L299.36 181.85 L300.36 181.43 L301.36 181.01 L302.35 180.59 L303.35 180.18 L304.34 179.76 L305.34 179.34 L306.34 178.93 L307.33 178.51 L308.33 178.10 L309.32 177.68 L310.32 177.27 L311.32 176.86 L312.31 176.45 L313.31 176.04 L314.30 175.63 L315.30 175.22 L316.30 174.81 L317.29 174.41 L318.29 174.00 L319.28 173.60 L320.28 173.20 L321.28 172.80 L322.27 172.40 L323.27 172.00 L324.26 171.61 L325.26 171.22 L326.26 170.83 L327.25 170.44 L328.25 170.05 L329.24 169.67 L330.24 169.28 L331.24 168.90 L332.23 168.53 L333.23 168.15 L334.23 167.78 L335.22 167.41 L336.22 167.04 L337.21 166.68 L338.21 166.31 L339.21 165.96 L340.20 165.60 L341.20 165.25 L342.19 164.89 L343.19 164.55 L344.19 164.20 L345.18 163.86 L346.18 163.52 L347.17 163.19 L348.17 162.85 L349.17 162.53 L350.16 162.20 L351.16 161.88 L352.15 161.56 L353.15 161.24 L354.15 160.93 L355.14 160.62 L356.14 160.31 L357.13 160.01 L358.13 159.71 L359.13 159.41 L360.12 159.11 L361.12 158.82 L362.11 158.53 L363.11 158.25 L364.11 157.96 L365.10 157.68 L366.10 157.40 L367.09 157.12 L368.09 156.85 L369.09 156.57 L370.08 156.30 L371.08 156.03 L372.08 155.76 L373.07 155.49 L374.07 155.22 L375.06 154.95 L376.06 154.68 L377.06 154.41 L378.05 154.14 L379.05 153.87 L380.04 153.59 L381.04 153.32 L382.04 153.04 L383.03 152.75 L384.03 152.47 L385.02 152.18 L386.02 151.88 L387.02 151.58 L388.01 151.27 L389.01 150.96 L390.00 150.63 L391.00 150.30" stroke="#008000" stroke-width="2.0" fill="none" stroke-linejoin="round"/>
<path d="M63.30 138.55 L64.30 138.32 L65.29 138.09 L66.29 137.88 L67.28 137.67 L68.28 137.46 L69.28 137.27 L70.27 137.08 L71.27 136.90 L72.26 136.72 L73.26 136.55 L74.26 136.39 L75.25 136.23 L76.25 136.08 L77.24 135.94 L78.24 135.80 L79.24 135.67 L80.23 135.54 L81.23 135.42 L82.22 135.31 L83.22 135.20 L84.22 135.09 L85.21 135.00 L86.21 134.90 L87.21 134.82 L88.20 134.74 L89.20 134.66 L90.19 134.59 L91.19 134.52 L92.19 134.46 L93.18 134.40 L94.18 134.35 L95.17 134.30 L96.17 134.26 L97.17 134.22 L98.16 134.19 L99.16 134.16 L100.15 134.13 L101.15 134.11 L102.15 134.10 L103.14 134.08 L104.14 134.07 L105.13 134.07 L106.13 134.07 L107.13 134.07 L108.12 134.07 L109.12 134.08 L110.11 134.10 L111.11 134.11 L112.11 134.13 L113.10 134.15 L114.10 134.18 L115.09 134.21 L116.09 134.24 L117.09 134.28 L118.08 134.31 L119.08 134.35 L120.07 134.40 L121.07 134.44 L122.07 134.49 L123.06 134.54 L124.06 134.60 L125.06 134.65 L126.05 134.71 L127.05 134.77 L128.04 134.83 L129.04 134.90 L130.04 134.97 L131.03 135.03 L132.03 135.11 L133.02 135.18 L134.02 135.25 L135.02 135.33 L136.01 135.41 L137.01 135.49 L138.00 135.57 L139.00 135.65 L140.00 135.74 L140.99 135.82 L141.99 135.91 L142.98 136.00 L143.98 136.09 L144.98 136.18 L145.97 136.27 L146.97 136.37 L147.96 136.46 L148.96 136.56 L149.96 136.66 L150.95 136.75 L151.95 136.85 L152.94 136.95 L153.94 137.05 L154.94 137.15 L155.93 137.26 L156.93 137.36 L157.92 137.46 L158.92 137.57 L159.92 137.67 L160.91 137.78 L161.91 137.88 L162.90 137.99 L163.90 138.10 L164.90 138.20 L165.89 138.31 L166.89 138.42 L167.89 138.53 L168.88 138.64 L169.88 138.75 L170.87 138.85 L171.87 138.96 L172.87 139.07 L173.86 139.18 L174.86 139.29 L175.85 139.40 L176.85 139.51 L177.85 139.62 L178.84 139.73 L179.84 139.84 L180.83 139.95 L181.83 140.06 L182.83 140.17 L183.82 140.28 L184.82 140.39 L185.81 140.50 L186.81 140.61 L187.81 140.72 L188.80 140.83 L189.80 140.94 L190.79 141.05 L191.79 141.15 L192.79 141.26 L193.78 141.37 L194.78 141.48 L195.77 141.58 L196.77 141.69 L197.77 141.79 L198.76 141.90 L199.76 142.01 L200.75 142.11 L201.75 142.22 L202.75 142.32 L203.74 142.42 L204.74 142.53 L205.73 142.63 L206.73 142.73 L207.73 142.83 L208.72 142.93 L209.72 143.03 L210.72 143.13 L211.71 143.23 L212.71 143.33 L213.70 143.43 L214.70 143.53 L215.70 143.63 L216.69 143.72 L217.69 143.82 L218.68 143.92 L219.68 144.01 L220.68 144.11 L221.67 144.20 L222.67 144.29 L223.66 144.39 L224.66 144.48 L225.66 144.57 L226.65 144.66 L227.65 144.75 L228.64 144.84 L229.64 144.93 L230.64 145.02 L231.63 145.10 L232.63 145.19 L233.62 145.28 L234.62 145.36 L235.62 145.45 L236.61 145.53 L237.61 145.62 L238.60 145.70 L239.60 145.78 L240.60 145.86 L241.59 145.94 L242.59 146.02 L243.58 146.10 L244.58 146.18 L245.58 146.26 L246.57 146.34 L247.57 146.42 L248.57 146.49 L249.56 146.57 L250.56 146.64 L251.55 146.72 L252.55 146.79 L253.55 146.86 L254.54 146.94 L255.54 147.01 L256.53 147.08 L257.53 147.15 L258.53 147.22 L259.52 147.29 L260.52 147.35 L261.51 147.42 L262.51 147.49 L263.51 147.55 L264.50 147.62 L265.50 147.68 L266.49 147.75 L267.49 147.81 L268.49 147.87 L269.48 147.93 L270.48 148.00 L271.47 148.06 L272.47 148.12 L273.47 148.17 L274.46 148.23 L275.46 148.29 L276.45 148.35 L277.45 148.40 L278.45 148.46 L279.44 148.51 L280.44 148.57 L281.43 148.62 L282.43 148.67 L283.43 148.72 L284.42 148.78 L285.42 148.83 L286.41 148.88 L287.41 148.92 L288.41 148.97 L289.40 149.02 L290.40 149.07 L291.40 149.11 L292.39 149.16 L293.39 149.20 L294.38 149.25 L295.38 149.29 L296.38 149.33 L297.37 149.38 L298.37 149.42 L299.36 149.46 L300.36 149.50 L301.36 149.54 L302.35 149.57 L303.35 149.61 L304.34 149.65 L305.34 149.68 L306.34 149.72 L307.33 149.75 L308.33 149.79 L309.32 149.82 L310.32 149.85 L311.32 149.88 L312.31 149.91 L313.31 149.95 L314.30 149.97 L315.30 150.00 L316.30 150.03 L317.29 150.06 L318.29 150.08 L319.28 150.11 L320.28 150.14 L321.28 150.16 L322.27 150.18 L323.27 150.21 L324.26 150.23 L325.26 150.25 L326.26 150.27 L327.25 150.29 L328.25 150.31 L329.24 150.33 L330.24 150.35 L331.24 150.36 L332.23 150.38 L333.23 150.40 L334.23 150.41 L335.22 150.43 L336.22 150.44 L337.21 150.45 L338.21 150.47 L339.21 150.48 L340.20 150.49 L341.20 150.50 L342.19 150.51 L343.19 150.52 L344.19 150.53 L345.18 150.54 L346.18 150.54 L347.17 150.55 L348.17 150.56 L349.17 150.56 L350.16 150.57 L351.16 150.57 L352.15 150.58 L353.15 150.58 L354.15 150.59 L355.14 150.59 L356.14 150.59 L357.13 150.60 L358.13 150.60 L359.13 150.60 L360.12 150.60 L361.12 150.60 L362.11 150.60 L363.11 150.60 L364.11 150.61 L365.10 150.61 L366.10 150.61 L367.09 150.61 L368.09 150.61 L369.09 150.61 L370.08 150.61 L371.08 150.61 L372.08 150.61 L373.07 150.61 L374.07 150.61 L375.06 150.61 L376.06 150.61 L377.06 150.61 L378.05 150.61 L379.05 150.62 L380.04 150.62 L381.04 150.62 L382.04 150.63 L383.03 150.63 L384.03 150.64 L385.02 150.64 L386.02 150.65 L387.02 150.66 L388.01 150.67 L389.01 150.68 L390.00 150.69 L391.00 150.70" stroke="#008000" stroke-width="2.0" fill="none" stroke-linejoin="round"/>
<path d="M215.70 143.48 L216.69 143.57 L217.69 143.67 L218.68 143.77 L219.68 143.86 L220.68 143.96 L221.67 144.05 L222.67 144.14 L223.66 144.24 L224.66 144.33 L225.66 144.42 L226.65 144.51 L227.65 144.60 L228.64 144.69 L229.64 144.78 L230.64 144.87 L231.63 144.95 L232.63 145.04 L233.62 145.13 L234.62 145.21 L235.62 145.30 L236.61 145.38 L237.61 145.47 L238.60 145.55 L239.60 145.63 L240.60 145.71 L241.59 145.79 L242.59 145.87 L243.58 145.95 L244.58 146.03 L245.58 146.11 L246.57 146.19 L247.57 146.27 L248.57 146.34 L249.56 146.42 L250.56 146.49 L251.55 146.57 L252.55 146.64 L253.55 146.71 L254.54 146.79 L255.54 146.86 L256.53 146.93 L257.53 147.00 L258.53 147.07 L259.52 147.14 L260.52 147.20 L261.51 147.27 L262.51 147.34 L263.51 147.40 L264.50 147.47 L265.50 147.53 L266.49 147.60 L267.49 147.66 L268.49 147.72 L269.48 147.78 L270.48 147.85 L271.47 147.91 L272.47 147.97 L273.47 148.02 L274.46 148.08 L275.46 148.14 L276.45 148.20 L277.45 148.25 L278.45 148.31 L279.44 148.36 L280.44 148.42 L281.43 148.47 L282.43 148.52 L283.43 148.57 L284.42 148.63 L285.42 148.68 L286.41 148.73 L287.41 148.77 L288.41 148.82 L289.40 148.87 L290.40 148.92 L291.40 148.96 L292.39 149.01 L293.39 149.05 L294.38 149.10 L295.38 149.14 L296.38 149.18 L297.37 149.23 L298.37 149.27 L299.36 149.31 L300.36 149.35 L301.36 149.39 L302.35 149.42 L303.35 149.46 L304.34 149.50 L305.34 149.53 L306.34 149.57 L307.33 149.60 L308.33 149.64 L309.32 149.67 L310.32 149.70 L311.32 149.73 L312.31 149.76 L313.31 149.80 L314.30 149.82 L315.30 149.85 L316.30 149.88 L317.29 149.91 L318.29 149.93 L319.28 149.96 L320.28 149.99 L321.28 150.01 L322.27 150.03 L323.27 150.06 L324.26 150.08 L325.26 150.10 L326.26 150.12 L327.25 150.14 L328.25 150.16 L329.24 150.18 L330.24 150.20 L331.24 150.21 L332.23 150.23 L333.23 150.25 L334.23 150.26 L335.22 150.28 L336.22 150.29 L337.21 150.30 L338.21 150.32 L339.21 150.33 L340.20 150.34 L341.20 150.35 L342.19 150.36 L343.19 150.37 L344.19 150.38 L345.18 150.39 L346.18 150.39 L347.17 150.40 L348.17 150.41 L349.17 150.41 L350.16 150.42 L351.16 150.42 L352.15 150.43 L353.15 150.43 L354.15 150.44 L355.14 150.44 L356.14 150.44 L357.13 150.45 L358.13 150.45 L359.13 150.45 L360.12 150.45 L361.12 150.45 L362.11 150.45 L363.11 150.45 L364.11 150.46 L365.10 150.46 L366.10 150.46 L367.09 150.46 L368.09 150.46 L369.09 150.46 L370.08 150.46 L371.08 150.46 L372.08 150.46 L373.07 150.46 L374.07 150.46 L375.06 150.46 L376.06 150.46 L377.06 150.46 L378.05 150.46 L379.05 150.47 L380.04 150.47 L381.04 150.47 L382.04 150.48 L383.03 150.48 L384.03 150.49 L385.02 150.49 L386.02 150.50 L387.02 150.51 L388.01 150.52 L389.01 150.53 L390.00 150.54 L391.00 150.55" stroke="#008000" stroke-width="2.6" fill="none" stroke-linejoin="round" stroke-linecap="round"/>
</g>
<path d="M93.46 248.30 v4.7 M108.51 248.30 v4.7 M123.56 248.30 v4.7 M153.68 248.30 v4.7 M168.73 248.30 v4.7 M183.78 248.30 v4.7 M213.90 248.30 v4.7 M228.95 248.30 v4.7 M244.00 248.30 v4.7 M274.12 248.30 v4.7 M289.17 248.30 v4.7 M304.23 248.30 v4.7 M334.34 248.30 v4.7 M349.39 248.30 v4.7 M364.45 248.30 v4.7 M63.30 241.66 h-4.5 M63.30 235.01 h-4.5 M63.30 228.37 h-4.5 M63.30 221.73 h-4.5 M63.30 208.44 h-4.5 M63.30 201.80 h-4.5 M63.30 195.16 h-4.5 M63.30 188.51 h-4.5 M63.30 175.23 h-4.5 M63.30 168.59 h-4.5 M63.30 161.94 h-4.5 M63.30 155.30 h-4.5 M63.30 142.01 h-4.5 M63.30 135.37 h-4.5 M63.30 128.73 h-4.5 M63.30 122.09 h-4.5 M63.30 108.80 h-4.5 M63.30 102.16 h-4.5 M63.30 95.51 h-4.5 M63.30 88.87 h-4.5 M63.30 75.59 h-4.5 M63.30 68.94 h-4.5 M63.30 62.30 h-4.5 M63.30 55.66 h-4.5 M63.30 42.37 h-4.5 M63.30 35.73 h-4.5 M63.30 29.09 h-4.5 M63.30 22.44 h-4.5" stroke="#000" stroke-width="1.05" fill="none"/>
<path d="M78.40 248.30 v9.7 M138.62 248.30 v9.7 M198.84 248.30 v9.7 M259.06 248.30 v9.7 M319.28 248.30 v9.7 M379.50 248.30 v9.7 M63.30 248.30 h-9.2 M63.30 215.09 h-9.2 M63.30 181.87 h-9.2 M63.30 148.66 h-9.2 M63.30 115.44 h-9.2 M63.30 82.23 h-9.2 M63.30 49.01 h-9.2 M63.30 15.80 h-9.2" stroke="#000" stroke-width="0.85" fill="none"/>
<rect x="63.3" y="15.8" width="328.0" height="232.5" fill="none" stroke="#000" stroke-width="1.9"/>
<g font-size="14.3px" fill="#000">
<text transform="translate(78.70 270.75) scale(0.965 1.03)" text-anchor="middle">8</text>
<text transform="translate(138.92 270.75) scale(0.965 1.03)" text-anchor="middle">10</text>
<text transform="translate(199.14 270.75) scale(0.965 1.03)" text-anchor="middle">12</text>
<text transform="translate(259.36 270.75) scale(0.965 1.03)" text-anchor="middle">14</text>
<text transform="translate(319.58 270.75) scale(0.965 1.03)" text-anchor="middle">16</text>
<text transform="translate(379.80 270.75) scale(0.965 1.03)" text-anchor="middle">18</text>
<text transform="translate(51.45 254.00) scale(0.965 1)" text-anchor="end">168</text>
<text transform="translate(51.45 220.79) scale(0.965 1)" text-anchor="end">169</text>
<text transform="translate(51.45 187.57) scale(0.965 1)" text-anchor="end">170</text>
<text transform="translate(51.45 154.36) scale(0.965 1)" text-anchor="end">171</text>
<text transform="translate(51.45 121.14) scale(0.965 1)" text-anchor="end">172</text>
<text transform="translate(51.45 87.93) scale(0.965 1)" text-anchor="end">173</text>
<text transform="translate(51.45 54.71) scale(0.965 1)" text-anchor="end">174</text>
<text transform="translate(51.45 21.50) scale(0.965 1)" text-anchor="end">175</text>
</g>
<g font-weight="normal" fill="#000" stroke="#000" stroke-width="0.6" stroke-linejoin="round" font-size="17.5px">
<text transform="translate(158.93 286.35) scale(1.054 1.000)" font-size="17.4px">L</text>
<text transform="translate(170.05 286.35) scale(1.058 1.000)" font-size="17.4px">o</text>
<text transform="translate(179.90 286.35) scale(1.149 1.000)" font-size="17.4px">g</text>
<text transform="translate(191.81 290.40) scale(0.694 1.000)" font-size="12.4px">1</text>
<text transform="translate(197.39 290.40) scale(1.100 1.000)" font-size="12.4px">0</text>
<text transform="translate(211.70 286.35) scale(1.136 1.000)" font-size="17.4px">M</text>
<text transform="translate(250.75 286.35) scale(1.010 1.000)" font-size="17.4px">G</text>
<text transform="translate(265.82 286.35) scale(1.104 1.000)" font-size="17.4px">e</text>
<text transform="translate(275.62 286.35) scale(1.028 1.000)" font-size="17.4px">V</text>
<path d="M242.1 290.6 L249.2 273.3" stroke="#000" stroke-width="1.0" fill="none"/>
<path d="M209.6 273.1 Q203.2 282 209.6 290.6 Q205.2 282 209.6 273.1 Z M291.5 273.0 Q298.1 282 291.5 290.8 Q296.1 282 291.5 273.0 Z" fill="#000" stroke="#000" stroke-width="0.45"/>
<path d="M230.8 288.7 L235.3 280.3 L240.4 288.7 Z M232.6 287.35 L237.5 287.35 L234.7 282.9 Z" fill="#000" fill-rule="evenodd"/>
<text transform="translate(20.70 168.10) rotate(-90) scale(1.160 1)" font-size="17.4px">M</text>
<text transform="translate(24.10 147.70) rotate(-90) scale(0.998 1)" font-size="13.6px">t</text>
<text transform="translate(20.70 134.30) rotate(-90) scale(1.010 1)" font-size="17.4px">G</text>
<text transform="translate(20.70 119.14) rotate(-90) scale(1.036 1)" font-size="17.4px">e</text>
<text transform="translate(20.70 110.08) rotate(-90) scale(1.060 1)" font-size="17.4px">V</text>
<path d="M8.0 136.3 L25.3 142.3" stroke="#000" stroke-width="1.0" fill="none"/>
</g>
</svg>
</body></html>
